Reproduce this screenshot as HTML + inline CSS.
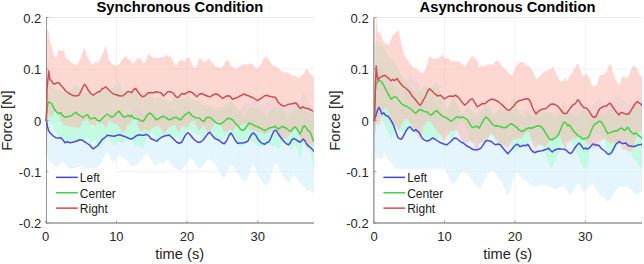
<!DOCTYPE html>
<html><head><meta charset="utf-8"><title>Force plots</title>
<style>
html,body{margin:0;padding:0;background:#fff;}
body{width:644px;height:264px;overflow:hidden;font-family:"Liberation Sans",sans-serif;}
svg{display:block;}
text{font-family:"Liberation Sans",sans-serif;fill:#262626;}
.tk{font-size:13px;}
.ti{font-size:14.72px;font-weight:bold;fill:#000;}
.al{font-size:14.7px;}
.lg{font-size:12px;fill:#1c1c1c;}
</style></head><body>
<svg width="644" height="264" viewBox="0 0 644 264">
<rect width="644" height="264" fill="#fff"/>
<clipPath id="c46"><rect x="46.0" y="17.5" width="268.0" height="205.5"/></clipPath>
<clipPath id="c46l"><rect x="45.0" y="17.5" width="269.0" height="205.5"/></clipPath>
<line x1="116.38" y1="17.5" x2="116.38" y2="223.0" stroke="#eeeeee" stroke-width="0.7"/>
<line x1="187.06" y1="17.5" x2="187.06" y2="223.0" stroke="#eeeeee" stroke-width="0.7"/>
<line x1="257.74" y1="17.5" x2="257.74" y2="223.0" stroke="#eeeeee" stroke-width="0.7"/>
<line x1="46.0" y1="69.0" x2="314.0" y2="69.0" stroke="#ececec" stroke-width="0.8"/>
<line x1="46.0" y1="120.5" x2="314.0" y2="120.5" stroke="#ececec" stroke-width="0.8"/>
<line x1="46.0" y1="171.7" x2="314.0" y2="171.7" stroke="#ececec" stroke-width="0.8"/>
<g clip-path="url(#c46)">
<path d="M46.0,120.5 L46.5,106.8 L47.0,98.0 L47.5,98.5 L48.0,97.6 L48.5,99.8 L49.0,102.0 L49.5,103.3 L50.0,104.5 L50.5,105.2 L51.0,105.7 L51.5,106.1 L52.0,106.5 L52.5,107.0 L53.0,107.5 L53.5,107.8 L54.0,107.9 L54.5,108.1 L55.0,108.4 L55.5,108.9 L56.0,109.0 L56.5,109.0 L57.0,109.0 L57.5,109.2 L58.0,110.0 L58.5,110.6 L59.0,111.2 L59.5,111.7 L60.0,112.2 L60.5,112.5 L61.0,113.7 L61.5,115.2 L62.0,116.7 L62.5,117.8 L63.0,118.0 L63.5,118.6 L64.0,119.3 L64.5,120.3 L65.0,120.7 L65.5,119.9 L66.0,119.1 L66.5,118.2 L67.0,117.4 L67.5,116.8 L68.0,116.6 L68.5,116.4 L69.0,116.3 L69.5,116.6 L70.0,116.8 L70.5,116.7 L71.0,116.5 L71.5,116.4 L72.0,116.3 L72.5,116.1 L73.0,116.1 L73.5,116.0 L74.0,115.9 L74.5,115.8 L75.0,115.7 L75.5,115.3 L76.0,115.0 L76.5,114.7 L77.0,114.3 L77.5,114.0 L78.0,113.7 L78.5,113.4 L79.0,113.2 L79.5,112.9 L80.0,112.9 L80.5,113.3 L81.0,113.6 L81.5,114.0 L82.0,113.9 L82.5,113.9 L83.0,114.2 L83.5,114.6 L84.0,114.9 L84.5,115.4 L85.0,116.0 L85.5,116.5 L86.0,117.1 L86.5,117.6 L87.0,118.1 L87.5,118.7 L88.0,119.4 L88.5,120.1 L89.0,120.7 L89.5,121.4 L90.0,122.3 L90.5,123.6 L91.0,124.9 L91.5,126.2 L92.0,127.2 L92.5,128.2 L93.0,129.2 L93.5,129.0 L94.0,128.2 L94.5,127.5 L95.0,126.9 L95.5,126.3 L96.0,125.8 L96.5,125.2 L97.0,124.7 L97.5,124.1 L98.0,123.2 L98.5,122.4 L99.0,121.6 L99.5,120.7 L100.0,120.0 L100.5,119.5 L101.0,119.0 L101.5,118.5 L102.0,118.0 L102.5,117.8 L103.0,118.1 L103.5,118.4 L104.0,118.8 L104.5,119.1 L105.0,119.3 L105.5,119.3 L106.0,119.2 L106.5,119.2 L107.0,119.2 L107.5,117.9 L108.0,117.4 L108.5,117.0 L109.0,116.5 L109.5,115.4 L110.0,114.3 L110.5,113.2 L111.0,112.5 L111.5,111.9 L112.0,111.4 L112.5,111.1 L113.0,111.3 L113.5,111.5 L114.0,111.7 L114.5,111.3 L115.0,111.3 L115.5,112.0 L116.0,112.6 L116.5,113.2 L117.0,113.9 L117.5,114.5 L118.0,114.9 L118.5,115.3 L119.0,115.7 L119.5,114.6 L120.0,113.8 L120.5,113.3 L121.0,113.3 L121.5,113.6 L122.0,113.8 L122.5,114.0 L123.0,114.2 L123.5,114.3 L124.0,114.3 L124.5,114.3 L125.0,114.3 L125.5,114.3 L126.0,114.2 L126.5,114.1 L127.0,113.9 L127.5,113.7 L128.0,113.6 L128.5,113.4 L129.0,113.2 L129.5,112.8 L130.0,112.3 L130.5,111.8 L131.0,111.7 L131.5,111.7 L132.0,111.0 L132.5,110.3 L133.0,109.6 L133.5,109.3 L134.0,109.1 L134.5,108.6 L135.0,108.1 L135.5,107.7 L136.0,107.2 L136.5,106.7 L137.0,106.7 L137.5,106.6 L138.0,106.5 L138.5,106.6 L139.0,106.7 L139.5,107.4 L140.0,108.1 L140.5,108.8 L141.0,109.6 L141.5,110.4 L142.0,111.1 L142.5,111.8 L143.0,112.4 L143.5,113.1 L144.0,113.8 L144.5,114.1 L145.0,114.4 L145.5,114.8 L146.0,115.1 L146.5,115.4 L147.0,116.7 L147.5,116.6 L148.0,116.5 L148.5,116.4 L149.0,116.2 L149.5,116.6 L150.0,117.0 L150.5,117.6 L151.0,118.5 L151.5,117.6 L152.0,116.7 L152.5,115.8 L153.0,115.3 L153.5,115.2 L154.0,115.2 L154.5,115.2 L155.0,115.2 L155.5,115.7 L156.0,116.6 L156.5,117.4 L157.0,117.7 L157.5,117.1 L158.0,116.4 L158.5,115.7 L159.0,115.1 L159.5,114.5 L160.0,114.2 L160.5,113.3 L161.0,112.1 L161.5,110.9 L162.0,109.8 L162.5,108.9 L163.0,108.8 L163.5,109.2 L164.0,109.5 L164.5,110.0 L165.0,110.6 L165.5,110.8 L166.0,110.8 L166.5,110.7 L167.0,110.7 L167.5,110.7 L168.0,110.2 L168.5,109.5 L169.0,108.8 L169.5,108.5 L170.0,108.8 L170.5,109.0 L171.0,109.0 L171.5,109.0 L172.0,109.1 L172.5,109.3 L173.0,109.7 L173.5,110.4 L174.0,111.0 L174.5,111.6 L175.0,112.2 L175.5,112.9 L176.0,113.5 L176.5,114.2 L177.0,114.8 L177.5,115.0 L178.0,115.3 L178.5,115.5 L179.0,115.7 L179.5,115.7 L180.0,115.4 L180.5,115.1 L181.0,114.8 L181.5,114.5 L182.0,113.9 L182.5,112.6 L183.0,111.2 L183.5,109.9 L184.0,108.6 L184.5,107.4 L185.0,106.6 L185.5,105.7 L186.0,104.9 L186.5,104.4 L187.0,104.5 L187.5,104.6 L188.0,104.6 L188.5,106.3 L189.0,108.0 L189.5,109.4 L190.0,110.7 L190.5,112.3 L191.0,114.1 L191.5,114.8 L192.0,115.5 L192.5,116.2 L193.0,116.7 L193.5,116.9 L194.0,117.1 L194.5,117.4 L195.0,117.6 L195.5,117.6 L196.0,117.4 L196.5,117.2 L197.0,117.1 L197.5,116.9 L198.0,116.6 L198.5,116.1 L199.0,115.7 L199.5,115.3 L200.0,115.4 L200.5,115.4 L201.0,115.1 L201.5,114.8 L202.0,114.6 L202.5,114.6 L203.0,114.2 L203.5,113.5 L204.0,112.8 L204.5,112.2 L205.0,111.5 L205.5,110.8 L206.0,110.2 L206.5,109.5 L207.0,108.8 L207.5,107.9 L208.0,107.4 L208.5,107.1 L209.0,106.8 L209.5,106.1 L210.0,106.1 L210.5,106.8 L211.0,107.4 L211.5,108.1 L212.0,108.8 L212.5,109.6 L213.0,110.4 L213.5,111.3 L214.0,112.1 L214.5,112.6 L215.0,112.5 L215.5,112.4 L216.0,112.2 L216.5,112.1 L217.0,111.8 L217.5,111.3 L218.0,110.8 L218.5,110.2 L219.0,109.7 L219.5,109.3 L220.0,109.4 L220.5,109.4 L221.0,109.4 L221.5,109.5 L222.0,109.5 L222.5,109.4 L223.0,109.2 L223.5,109.1 L224.0,109.0 L224.5,109.5 L225.0,108.8 L225.5,108.1 L226.0,107.4 L226.5,107.6 L227.0,107.4 L227.5,106.6 L228.0,105.6 L228.5,104.6 L229.0,103.5 L229.5,103.0 L230.0,102.0 L230.5,101.0 L231.0,101.8 L231.5,102.6 L232.0,103.3 L232.5,104.1 L233.0,105.3 L233.5,106.8 L234.0,108.2 L234.5,109.5 L235.0,110.8 L235.5,111.6 L236.0,112.1 L236.5,112.5 L237.0,113.0 L237.5,113.5 L238.0,113.1 L238.5,112.3 L239.0,111.6 L239.5,110.8 L240.0,110.0 L240.5,109.3 L241.0,108.5 L241.5,107.7 L242.0,107.0 L242.5,106.2 L243.0,105.4 L243.5,104.7 L244.0,104.4 L244.5,104.0 L245.0,103.4 L245.5,102.8 L246.0,102.8 L246.5,103.0 L247.0,103.2 L247.5,103.4 L248.0,103.4 L248.5,103.2 L249.0,103.0 L249.5,103.3 L250.0,104.5 L250.5,103.6 L251.0,102.6 L251.5,101.7 L252.0,101.6 L252.5,101.8 L253.0,100.7 L253.5,99.6 L254.0,99.5 L254.5,99.9 L255.0,100.3 L255.5,100.3 L256.0,100.6 L256.5,101.6 L257.0,102.5 L257.5,103.4 L258.0,104.2 L258.5,104.3 L259.0,104.3 L259.5,104.4 L260.0,104.5 L260.5,104.5 L261.0,104.5 L261.5,104.5 L262.0,104.5 L262.5,104.5 L263.0,104.5 L263.5,104.4 L264.0,104.4 L264.5,104.3 L265.0,103.4 L265.5,102.5 L266.0,101.5 L266.5,100.5 L267.0,99.9 L267.5,99.3 L268.0,99.9 L268.5,100.5 L269.0,100.4 L269.5,100.0 L270.0,100.1 L270.5,100.1 L271.0,99.5 L271.5,98.9 L272.0,98.1 L272.5,97.5 L273.0,96.8 L273.5,96.2 L274.0,96.0 L274.5,96.0 L275.0,95.9 L275.5,97.3 L276.0,98.1 L276.5,97.7 L277.0,98.2 L277.5,99.2 L278.0,100.1 L278.5,100.8 L279.0,101.1 L279.5,101.5 L280.0,101.9 L280.5,102.4 L281.0,102.9 L281.5,103.4 L282.0,103.9 L282.5,104.3 L283.0,104.7 L283.5,105.1 L284.0,105.5 L284.5,105.9 L285.0,106.1 L285.5,106.4 L286.0,106.7 L286.5,107.1 L287.0,107.1 L287.5,106.9 L288.0,107.0 L288.5,107.2 L289.0,106.3 L289.5,104.9 L290.0,104.5 L290.5,104.3 L291.0,103.8 L291.5,103.2 L292.0,102.4 L292.5,102.5 L293.0,102.7 L293.5,102.8 L294.0,102.8 L294.5,102.8 L295.0,102.7 L295.5,102.7 L296.0,102.6 L296.5,102.6 L297.0,102.5 L297.5,102.5 L298.0,102.4 L298.5,102.4 L299.0,102.4 L299.5,102.4 L300.0,102.4 L300.5,100.8 L301.0,99.2 L301.5,97.7 L302.0,96.2 L302.5,94.7 L303.0,93.2 L303.5,92.3 L304.0,92.9 L304.5,93.4 L305.0,93.9 L305.5,95.1 L306.0,96.2 L306.5,97.5 L307.0,98.3 L307.5,98.9 L308.0,99.5 L308.5,101.2 L309.0,102.5 L309.5,103.8 L310.0,105.1 L310.5,104.8 L311.0,104.8 L311.5,104.8 L312.0,105.3 L312.5,106.2 L313.0,107.1 L313.5,108.0 L314.0,108.5 L314.0,193.8 L313.5,193.6 L313.0,193.3 L312.5,193.0 L312.0,192.7 L311.5,192.2 L311.0,191.2 L310.5,190.2 L310.0,189.2 L309.5,189.8 L309.0,190.4 L308.5,191.0 L308.0,191.7 L307.5,191.1 L307.0,190.5 L306.5,189.9 L306.0,189.4 L305.5,188.7 L305.0,188.1 L304.5,187.4 L304.0,186.7 L303.5,186.1 L303.0,185.5 L302.5,185.0 L302.0,184.5 L301.5,184.0 L301.0,183.5 L300.5,182.9 L300.0,182.2 L299.5,181.6 L299.0,180.9 L298.5,180.2 L298.0,179.6 L297.5,178.9 L297.0,178.2 L296.5,177.6 L296.0,176.9 L295.5,176.3 L295.0,175.7 L294.5,175.1 L294.0,174.6 L293.5,174.4 L293.0,175.3 L292.5,176.1 L292.0,176.9 L291.5,177.9 L291.0,179.2 L290.5,180.4 L290.0,181.7 L289.5,182.4 L289.0,182.2 L288.5,182.1 L288.0,181.9 L287.5,181.7 L287.0,181.2 L286.5,180.7 L286.0,180.2 L285.5,179.7 L285.0,179.2 L284.5,178.3 L284.0,177.5 L283.5,176.7 L283.0,175.8 L282.5,175.0 L282.0,174.2 L281.5,173.3 L281.0,172.5 L280.5,171.7 L280.0,170.8 L279.5,169.8 L279.0,168.8 L278.5,167.7 L278.0,166.7 L277.5,165.8 L277.0,165.0 L276.5,164.1 L276.0,163.3 L275.5,163.6 L275.0,164.4 L274.5,165.3 L274.0,166.1 L273.5,167.2 L273.0,168.9 L272.5,170.6 L272.0,172.2 L271.5,174.0 L271.0,175.8 L270.5,177.7 L270.0,179.6 L269.5,181.2 L269.0,182.2 L268.5,183.3 L268.0,184.3 L267.5,185.3 L267.0,185.2 L266.5,185.1 L266.0,184.9 L265.5,184.8 L265.0,184.7 L264.5,184.2 L264.0,183.8 L263.5,183.4 L263.0,182.9 L262.5,182.5 L262.0,181.8 L261.5,181.2 L261.0,180.5 L260.5,179.8 L260.0,179.2 L259.5,178.0 L259.0,176.8 L258.5,175.7 L258.0,174.5 L257.5,173.3 L257.0,172.3 L256.5,171.3 L256.0,170.3 L255.5,169.3 L255.0,168.3 L254.5,167.7 L254.0,167.1 L253.5,166.5 L253.0,165.9 L252.5,165.3 L252.0,166.1 L251.5,166.9 L251.0,167.6 L250.5,168.4 L250.0,169.2 L249.5,172.3 L249.0,174.5 L248.5,176.2 L248.0,178.0 L247.5,179.4 L247.0,180.0 L246.5,180.6 L246.0,181.2 L245.5,181.6 L245.0,181.4 L244.5,181.2 L244.0,181.0 L243.5,180.8 L243.0,180.2 L242.5,179.5 L242.0,178.8 L241.5,178.2 L241.0,177.5 L240.5,176.8 L240.0,176.2 L239.5,175.5 L239.0,174.8 L238.5,174.2 L238.0,173.5 L237.5,172.8 L237.0,172.2 L236.5,171.5 L236.0,170.8 L235.5,170.2 L235.0,169.5 L234.5,168.8 L234.0,168.2 L233.5,167.5 L233.0,167.0 L232.5,166.5 L232.0,166.0 L231.5,165.5 L231.0,165.0 L230.5,165.5 L230.0,166.0 L229.5,166.5 L229.0,167.5 L228.5,168.8 L228.0,170.0 L227.5,171.3 L227.0,172.8 L226.5,174.3 L226.0,175.8 L225.5,176.5 L225.0,177.1 L224.5,177.7 L224.0,178.3 L223.5,177.8 L223.0,177.2 L222.5,176.6 L222.0,176.0 L221.5,175.3 L221.0,174.4 L220.5,173.6 L220.0,172.8 L219.5,171.9 L219.0,171.0 L218.5,170.0 L218.0,169.0 L217.5,168.0 L217.0,167.0 L216.5,166.2 L216.0,165.6 L215.5,164.9 L215.0,164.2 L214.5,163.6 L214.0,163.0 L213.5,162.5 L213.0,162.0 L212.5,161.5 L212.0,161.0 L211.5,160.5 L211.0,160.0 L210.5,159.5 L210.0,159.0 L209.5,158.5 L209.0,158.7 L208.5,159.2 L208.0,159.7 L207.5,160.2 L207.0,160.7 L206.5,161.3 L206.0,161.9 L205.5,162.6 L205.0,163.3 L204.5,163.9 L204.0,164.6 L203.5,165.3 L203.0,165.9 L202.5,166.6 L202.0,167.3 L201.5,167.8 L201.0,168.1 L200.5,168.5 L200.0,168.9 L199.5,169.0 L199.0,168.6 L198.5,168.2 L198.0,167.8 L197.5,167.2 L197.0,166.4 L196.5,165.6 L196.0,164.7 L195.5,163.9 L195.0,163.1 L194.5,162.3 L194.0,161.5 L193.5,160.8 L193.0,160.0 L192.5,159.4 L192.0,158.8 L191.5,158.1 L191.0,157.5 L190.5,157.9 L190.0,158.3 L189.5,158.8 L189.0,159.2 L188.5,159.9 L188.0,160.7 L187.5,161.5 L187.0,162.2 L186.5,163.1 L186.0,163.9 L185.5,164.7 L185.0,165.6 L184.5,166.4 L184.0,167.1 L183.5,167.8 L183.0,168.4 L182.5,169.1 L182.0,169.8 L181.5,170.1 L181.0,170.3 L180.5,170.4 L180.0,170.6 L179.5,170.8 L179.0,170.7 L178.5,170.4 L178.0,170.2 L177.5,169.9 L177.0,169.7 L176.5,169.4 L176.0,169.2 L175.5,168.8 L175.0,168.4 L174.5,168.0 L174.0,167.7 L173.5,167.3 L173.0,166.9 L172.5,166.4 L172.0,165.6 L171.5,164.7 L171.0,163.9 L170.5,163.1 L170.0,162.3 L169.5,161.8 L169.0,161.3 L168.5,160.8 L168.0,160.3 L167.5,160.1 L167.0,160.2 L166.5,160.4 L166.0,160.6 L165.5,160.7 L165.0,161.1 L164.5,161.9 L164.0,162.8 L163.5,163.6 L163.0,164.4 L162.5,164.8 L162.0,164.3 L161.5,163.8 L161.0,163.3 L160.5,162.8 L160.0,162.6 L159.5,162.9 L159.0,163.3 L158.5,163.6 L158.0,163.9 L157.5,164.3 L157.0,164.6 L156.5,164.9 L156.0,165.3 L155.5,165.6 L155.0,165.7 L154.5,165.2 L154.0,164.7 L153.5,164.2 L153.0,163.7 L152.5,162.9 L152.0,161.7 L151.5,160.4 L151.0,159.2 L150.5,158.7 L150.0,157.8 L149.5,156.8 L149.0,155.8 L148.5,154.9 L148.0,154.2 L147.5,153.4 L147.0,152.7 L146.5,153.3 L146.0,153.9 L145.5,154.6 L145.0,155.2 L144.5,155.9 L144.0,156.6 L143.5,157.2 L143.0,157.9 L142.5,158.6 L142.0,159.2 L141.5,159.9 L141.0,160.6 L140.5,161.2 L140.0,161.7 L139.5,162.2 L139.0,162.7 L138.5,163.2 L138.0,163.6 L137.5,163.9 L137.0,164.3 L136.5,164.6 L136.0,164.9 L135.5,165.3 L135.0,165.6 L134.5,165.9 L134.0,166.3 L133.5,166.6 L133.0,166.8 L132.5,166.6 L132.0,166.4 L131.5,166.3 L131.0,166.1 L130.5,165.8 L130.0,165.1 L129.5,164.4 L129.0,163.8 L128.5,163.1 L128.0,162.4 L127.5,161.8 L127.0,161.1 L126.5,160.4 L126.0,159.8 L125.5,159.2 L125.0,158.9 L124.5,158.6 L124.0,158.2 L123.5,157.9 L123.0,157.6 L122.5,157.4 L122.0,157.3 L121.5,157.1 L121.0,156.9 L120.5,156.6 L120.0,155.7 L119.5,154.8 L119.0,154.0 L118.5,154.6 L118.0,155.2 L117.5,155.8 L117.0,156.7 L116.5,157.7 L116.0,158.7 L115.5,159.7 L115.0,160.7 L114.5,161.0 L114.0,161.0 L113.5,161.0 L113.0,161.0 L112.5,161.0 L112.0,160.5 L111.5,159.8 L111.0,159.0 L110.5,158.1 L110.0,156.8 L109.5,155.6 L109.0,154.3 L108.5,153.7 L108.0,153.1 L107.5,152.5 L107.0,151.8 L106.5,152.8 L106.0,153.8 L105.5,154.7 L105.0,155.7 L104.5,156.7 L104.0,157.7 L103.5,158.7 L103.0,159.7 L102.5,160.7 L102.0,161.6 L101.5,162.4 L101.0,163.2 L100.5,164.1 L100.0,164.9 L99.5,165.5 L99.0,166.0 L98.5,166.5 L98.0,167.0 L97.5,167.5 L97.0,167.8 L96.5,167.9 L96.0,168.0 L95.5,168.1 L95.0,168.2 L94.5,168.4 L94.0,168.5 L93.5,168.5 L93.0,168.5 L92.5,168.5 L92.0,168.5 L91.5,168.5 L91.0,168.5 L90.5,168.5 L90.0,168.5 L89.5,168.5 L89.0,168.5 L88.5,168.5 L88.0,168.5 L87.5,168.5 L87.0,168.4 L86.5,168.3 L86.0,168.2 L85.5,168.0 L85.0,167.9 L84.5,167.8 L84.0,167.7 L83.5,167.3 L83.0,167.0 L82.5,166.7 L82.0,166.3 L81.5,166.0 L81.0,166.2 L80.5,166.3 L80.0,166.5 L79.5,166.7 L79.0,166.8 L78.5,167.0 L78.0,167.1 L77.5,167.2 L77.0,167.3 L76.5,167.5 L76.0,167.6 L75.5,167.7 L75.0,167.8 L74.5,168.0 L74.0,168.1 L73.5,168.2 L73.0,168.3 L72.5,168.5 L72.0,168.5 L71.5,168.5 L71.0,168.5 L70.5,168.5 L70.0,168.5 L69.5,168.5 L69.0,168.5 L68.5,168.0 L68.0,167.5 L67.5,167.0 L67.0,166.5 L66.5,166.0 L66.0,165.5 L65.5,165.0 L65.0,164.5 L64.5,164.0 L64.0,163.5 L63.5,162.8 L63.0,162.0 L62.5,161.2 L62.0,161.3 L61.5,161.8 L61.0,162.3 L60.5,162.8 L60.0,163.3 L59.5,163.9 L59.0,164.6 L58.5,165.3 L58.0,165.9 L57.5,166.6 L57.0,166.7 L56.5,166.6 L56.0,166.4 L55.5,166.2 L55.0,166.1 L54.5,165.7 L54.0,165.2 L53.5,164.7 L53.0,164.2 L52.5,163.7 L52.0,163.1 L51.5,162.6 L51.0,162.0 L50.5,161.4 L50.0,160.9 L49.5,160.7 L49.0,160.8 L48.5,160.9 L48.0,159.4 L47.5,154.7 L47.0,150.0 L46.5,135.2 L46.0,120.5Z" fill="rgb(201,235,251)" fill-opacity="0.5" stroke="none"/>
<path d="M46.0,120.5 L46.5,113.7 L47.0,106.8 L47.5,100.0 L48.0,93.1 L48.5,86.1 L49.0,79.2 L49.5,80.2 L50.0,81.2 L50.5,82.2 L51.0,83.2 L51.5,84.2 L52.0,84.8 L52.5,85.5 L53.0,86.2 L53.5,86.8 L54.0,87.5 L54.5,88.2 L55.0,88.8 L55.5,89.5 L56.0,90.2 L56.5,90.8 L57.0,90.5 L57.5,90.2 L58.0,89.8 L58.5,89.5 L59.0,89.2 L59.5,89.5 L60.0,89.8 L60.5,90.2 L61.0,90.5 L61.5,90.8 L62.0,91.2 L62.5,91.5 L63.0,91.8 L63.5,92.2 L64.0,92.5 L64.5,92.6 L65.0,92.8 L65.5,92.9 L66.0,93.0 L66.5,93.1 L67.0,93.2 L67.5,93.2 L68.0,92.8 L68.5,92.5 L69.0,92.1 L69.5,91.7 L70.0,91.3 L70.5,91.0 L71.0,90.3 L71.5,89.4 L72.0,88.6 L72.5,87.8 L73.0,86.9 L73.5,86.3 L74.0,85.7 L74.5,85.1 L75.0,84.5 L75.5,83.9 L76.0,84.2 L76.5,84.9 L77.0,85.7 L77.5,86.5 L78.0,87.2 L78.5,88.2 L79.0,89.2 L79.5,90.2 L80.0,91.1 L80.5,91.8 L81.0,92.6 L81.5,93.3 L82.0,93.2 L82.5,93.1 L83.0,93.0 L83.5,92.9 L84.0,92.8 L84.5,92.7 L85.0,92.6 L85.5,92.5 L86.0,92.6 L86.5,92.8 L87.0,92.9 L87.5,93.1 L88.0,93.3 L88.5,93.4 L89.0,93.6 L89.5,93.8 L90.0,93.9 L90.5,94.1 L91.0,94.3 L91.5,94.6 L92.0,94.8 L92.5,95.1 L93.0,95.3 L93.5,95.6 L94.0,95.8 L94.5,95.7 L95.0,95.6 L95.5,95.5 L96.0,95.3 L96.5,95.2 L97.0,95.1 L97.5,94.9 L98.0,94.5 L98.5,94.1 L99.0,93.8 L99.5,93.4 L100.0,93.0 L100.5,92.6 L101.0,92.3 L101.5,92.1 L102.0,91.8 L102.5,91.6 L103.0,91.3 L103.5,91.1 L104.0,90.8 L104.5,91.0 L105.0,91.1 L105.5,91.2 L106.0,91.3 L106.5,91.5 L107.0,91.6 L107.5,91.6 L108.0,91.5 L108.5,91.4 L109.0,91.2 L109.5,91.1 L110.0,91.0 L110.5,90.9 L111.0,90.5 L111.5,90.0 L112.0,89.5 L112.5,89.0 L113.0,88.5 L113.5,87.9 L114.0,87.2 L114.5,86.6 L115.0,85.9 L115.5,85.2 L116.0,84.3 L116.5,83.3 L117.0,82.3 L117.5,81.3 L118.0,80.3 L118.5,80.7 L119.0,81.7 L119.5,82.7 L120.0,83.7 L120.5,84.7 L121.0,85.7 L121.5,86.7 L122.0,87.7 L122.5,88.7 L123.0,89.7 L123.5,90.4 L124.0,91.1 L124.5,91.8 L125.0,92.4 L125.5,93.1 L126.0,93.3 L126.5,93.3 L127.0,93.3 L127.5,93.3 L128.0,93.3 L128.5,93.3 L129.0,93.3 L129.5,93.2 L130.0,93.1 L130.5,93.0 L131.0,92.8 L131.5,92.7 L132.0,92.6 L132.5,92.5 L133.0,92.3 L133.5,92.2 L134.0,92.1 L134.5,92.0 L135.0,91.8 L135.5,91.7 L136.0,91.8 L136.5,91.9 L137.0,92.1 L137.5,92.3 L138.0,92.4 L138.5,92.7 L139.0,93.1 L139.5,93.4 L140.0,93.7 L140.5,94.1 L141.0,94.2 L141.5,94.4 L142.0,94.5 L142.5,94.6 L143.0,94.8 L143.5,94.9 L144.0,95.0 L144.5,94.8 L145.0,94.6 L145.5,94.4 L146.0,94.2 L146.5,94.0 L147.0,93.8 L147.5,93.6 L148.0,93.5 L148.5,93.4 L149.0,93.2 L149.5,93.1 L150.0,93.0 L150.5,94.1 L151.0,95.2 L151.5,95.7 L152.0,96.2 L152.5,96.7 L153.0,97.2 L153.5,97.7 L154.0,98.2 L154.5,98.4 L155.0,98.2 L155.5,97.9 L156.0,97.7 L156.5,97.4 L157.0,97.2 L157.5,96.9 L158.0,96.9 L158.5,97.0 L159.0,97.2 L159.5,97.3 L160.0,97.4 L160.5,97.5 L161.0,97.7 L161.5,97.9 L162.0,98.2 L162.5,98.4 L163.0,98.7 L163.5,98.9 L164.0,99.2 L164.5,99.5 L165.0,99.8 L165.5,100.2 L166.0,100.6 L166.5,101.0 L167.0,101.3 L167.5,101.7 L168.0,101.8 L168.5,101.6 L169.0,101.5 L169.5,101.4 L170.0,101.2 L170.5,101.1 L171.0,101.0 L171.5,100.3 L172.0,99.7 L172.5,99.0 L173.0,98.3 L173.5,97.7 L174.0,97.8 L174.5,98.0 L175.0,98.2 L175.5,98.3 L176.0,98.5 L176.5,98.6 L177.0,98.8 L177.5,98.9 L178.0,99.0 L178.5,99.1 L179.0,99.2 L179.5,99.3 L180.0,99.2 L180.5,99.0 L181.0,98.9 L181.5,98.8 L182.0,98.7 L182.5,98.5 L183.0,98.3 L183.5,98.1 L184.0,97.8 L184.5,97.6 L185.0,97.3 L185.5,97.1 L186.0,96.8 L186.5,96.5 L187.0,96.2 L187.5,95.8 L188.0,95.5 L188.5,95.2 L189.0,95.7 L189.5,96.2 L190.0,96.7 L190.5,97.2 L191.0,97.7 L191.5,98.2 L192.0,98.7 L192.5,99.2 L193.0,99.7 L193.5,100.2 L194.0,100.7 L194.5,101.0 L195.0,100.8 L195.5,100.7 L196.0,100.6 L196.5,100.5 L197.0,100.3 L197.5,100.2 L198.0,100.5 L198.5,101.0 L199.0,101.5 L199.5,102.0 L200.0,102.5 L200.5,103.0 L201.0,103.5 L201.5,103.8 L202.0,104.0 L202.5,104.2 L203.0,104.5 L203.5,104.8 L204.0,105.0 L204.5,105.1 L205.0,105.0 L205.5,104.9 L206.0,104.8 L206.5,104.6 L207.0,104.5 L207.5,104.4 L208.0,104.4 L208.5,104.5 L209.0,104.7 L209.5,104.8 L210.0,104.9 L210.5,105.0 L211.0,105.2 L211.5,105.5 L212.0,105.9 L212.5,106.3 L213.0,106.7 L213.5,107.0 L214.0,107.4 L214.5,107.6 L215.0,107.5 L215.5,107.4 L216.0,107.2 L216.5,107.1 L217.0,107.0 L217.5,106.9 L218.0,106.8 L218.5,106.8 L219.0,106.8 L219.5,106.8 L220.0,106.8 L220.5,106.8 L221.0,106.8 L221.5,106.6 L222.0,106.3 L222.5,106.1 L223.0,105.8 L223.5,105.6 L224.0,105.3 L224.5,105.1 L225.0,104.8 L225.5,104.6 L226.0,104.3 L226.5,104.1 L227.0,103.8 L227.5,103.6 L228.0,103.3 L228.5,102.9 L229.0,102.5 L229.5,102.1 L230.0,101.8 L230.5,101.4 L231.0,101.0 L231.5,101.5 L232.0,102.0 L232.5,102.5 L233.0,103.0 L233.5,103.5 L234.0,104.1 L234.5,104.7 L235.0,105.2 L235.5,105.8 L236.0,106.4 L236.5,106.8 L237.0,107.1 L237.5,107.5 L238.0,107.9 L238.5,108.2 L239.0,108.9 L239.5,109.6 L240.0,110.2 L240.5,111.0 L241.0,112.0 L241.5,113.0 L242.0,114.0 L242.5,114.8 L243.0,115.5 L243.5,116.2 L244.0,116.9 L244.5,117.6 L245.0,116.6 L245.5,115.6 L246.0,114.5 L246.5,113.5 L247.0,112.4 L247.5,111.2 L248.0,110.0 L248.5,108.9 L249.0,108.4 L249.5,107.9 L250.0,107.4 L250.5,107.0 L251.0,107.2 L251.5,107.3 L252.0,107.4 L252.5,107.5 L253.0,107.7 L253.5,107.8 L254.0,107.8 L254.5,108.0 L255.0,108.0 L255.5,108.2 L256.0,108.2 L256.5,108.2 L257.0,108.2 L257.5,108.2 L258.0,108.2 L258.5,108.2 L259.0,108.2 L259.5,108.5 L260.0,108.8 L260.5,109.2 L261.0,109.5 L261.5,110.3 L262.0,111.2 L262.5,112.0 L263.0,112.8 L263.5,113.7 L264.0,114.5 L264.5,115.3 L265.0,116.1 L265.5,116.8 L266.0,117.4 L266.5,118.1 L267.0,117.6 L267.5,116.8 L268.0,116.0 L268.5,115.1 L269.0,114.0 L269.5,112.8 L270.0,111.6 L270.5,110.6 L271.0,109.9 L271.5,109.2 L272.0,108.6 L272.5,108.2 L273.0,108.1 L273.5,107.9 L274.0,107.8 L274.5,107.7 L275.0,107.6 L275.5,107.6 L276.0,107.6 L276.5,107.6 L277.0,107.6 L277.5,107.6 L278.0,107.6 L278.5,107.6 L279.0,107.9 L279.5,108.2 L280.0,108.5 L280.5,108.8 L281.0,109.1 L281.5,109.4 L282.0,109.9 L282.5,110.4 L283.0,110.9 L283.5,111.4 L284.0,111.9 L284.5,112.5 L285.0,113.2 L285.5,113.8 L286.0,114.5 L286.5,114.8 L287.0,115.2 L287.5,115.5 L288.0,115.6 L288.5,115.1 L289.0,114.6 L289.5,114.1 L290.0,113.5 L290.5,112.9 L291.0,112.2 L291.5,111.5 L292.0,111.0 L292.5,110.5 L293.0,110.0 L293.5,109.5 L294.0,109.4 L294.5,109.2 L295.0,109.1 L295.5,109.0 L296.0,108.9 L296.5,109.0 L297.0,109.1 L297.5,109.2 L298.0,109.4 L298.5,109.5 L299.0,109.4 L299.5,109.2 L300.0,109.1 L300.5,109.0 L301.0,108.9 L301.5,109.0 L302.0,109.1 L302.5,109.2 L303.0,109.4 L303.5,109.5 L304.0,109.8 L304.5,110.0 L305.0,110.2 L305.5,110.5 L306.0,110.8 L306.5,111.0 L307.0,111.2 L307.5,111.5 L308.0,111.8 L308.5,112.0 L309.0,112.2 L309.5,112.5 L310.0,112.8 L310.5,113.0 L311.0,113.2 L311.5,113.4 L312.0,113.5 L312.5,113.6 L313.0,113.7 L313.5,113.8 L314.0,114.0 L314.0,170.0 L313.5,168.7 L313.0,166.3 L312.5,163.4 L312.0,160.5 L311.5,157.8 L311.0,155.4 L310.5,153.2 L310.0,150.9 L309.5,150.5 L309.0,150.0 L308.5,149.6 L308.0,148.7 L307.5,147.6 L307.0,146.5 L306.5,145.4 L306.0,144.4 L305.5,143.4 L305.0,142.4 L304.5,141.3 L304.0,142.2 L303.5,143.0 L303.0,145.2 L302.5,148.1 L302.0,151.0 L301.5,153.6 L301.0,155.5 L300.5,157.2 L300.0,158.9 L299.5,157.0 L299.0,155.0 L298.5,153.1 L298.0,151.6 L297.5,150.2 L297.0,148.9 L296.5,147.7 L296.0,146.8 L295.5,145.7 L295.0,144.5 L294.5,145.2 L294.0,146.0 L293.5,146.7 L293.0,147.0 L292.5,147.8 L292.0,148.6 L291.5,149.4 L291.0,150.0 L290.5,149.5 L290.0,148.5 L289.5,147.5 L289.0,146.4 L288.5,145.1 L288.0,143.7 L287.5,142.9 L287.0,142.4 L286.5,142.0 L286.0,141.9 L285.5,142.1 L285.0,142.3 L284.5,142.5 L284.0,142.6 L283.5,142.7 L283.0,142.7 L282.5,142.8 L282.0,142.8 L281.5,144.1 L281.0,145.2 L280.5,146.3 L280.0,147.5 L279.5,148.4 L279.0,149.3 L278.5,150.2 L278.0,149.8 L277.5,149.0 L277.0,148.2 L276.5,147.4 L276.0,146.6 L275.5,145.8 L275.0,145.0 L274.5,145.4 L274.0,145.7 L273.5,145.9 L273.0,146.2 L272.5,146.5 L272.0,146.2 L271.5,145.7 L271.0,145.1 L270.5,144.6 L270.0,143.7 L269.5,143.1 L269.0,142.4 L268.5,141.8 L268.0,141.5 L267.5,141.2 L267.0,141.0 L266.5,141.2 L266.0,142.6 L265.5,143.9 L265.0,145.2 L264.5,145.5 L264.0,145.8 L263.5,146.1 L263.0,146.4 L262.5,146.7 L262.0,147.0 L261.5,147.3 L261.0,147.6 L260.5,147.4 L260.0,147.2 L259.5,147.0 L259.0,146.8 L258.5,146.3 L258.0,145.9 L257.5,145.4 L257.0,145.1 L256.5,144.8 L256.0,144.4 L255.5,144.2 L255.0,143.9 L254.5,143.4 L254.0,142.8 L253.5,142.2 L253.0,141.7 L252.5,141.1 L252.0,140.9 L251.5,140.7 L251.0,140.5 L250.5,140.3 L250.0,139.6 L249.5,138.6 L249.0,137.6 L248.5,138.7 L248.0,139.0 L247.5,139.4 L247.0,139.8 L246.5,140.0 L246.0,140.4 L245.5,140.7 L245.0,141.0 L244.5,141.3 L244.0,142.7 L243.5,143.8 L243.0,144.9 L242.5,146.0 L242.0,146.5 L241.5,146.7 L241.0,146.9 L240.5,147.2 L240.0,147.0 L239.5,146.3 L239.0,145.6 L238.5,145.0 L238.0,144.0 L237.5,143.2 L237.0,142.5 L236.5,141.9 L236.0,141.3 L235.5,140.9 L235.0,140.4 L234.5,139.7 L234.0,139.1 L233.5,138.5 L233.0,137.8 L232.5,137.3 L232.0,137.2 L231.5,137.1 L231.0,137.1 L230.5,136.2 L230.0,135.7 L229.5,135.1 L229.0,134.5 L228.5,134.0 L228.0,133.4 L227.5,133.7 L227.0,134.2 L226.5,134.6 L226.0,135.0 L225.5,135.8 L225.0,136.5 L224.5,137.2 L224.0,138.0 L223.5,138.8 L223.0,139.2 L222.5,139.6 L222.0,140.0 L221.5,140.4 L221.0,140.8 L220.5,140.8 L220.0,140.8 L219.5,140.8 L219.0,140.8 L218.5,140.8 L218.0,140.4 L217.5,139.9 L217.0,139.3 L216.5,138.7 L216.0,138.1 L215.5,137.1 L215.0,136.1 L214.5,135.1 L214.0,134.4 L213.5,134.0 L213.0,133.3 L212.5,132.7 L212.0,132.1 L211.5,131.5 L211.0,130.8 L210.5,130.6 L210.0,130.4 L209.5,130.2 L209.0,130.0 L208.5,129.8 L208.0,130.2 L207.5,130.6 L207.0,130.8 L206.5,131.0 L206.0,131.2 L205.5,133.0 L205.0,134.7 L204.5,136.4 L204.0,138.3 L203.5,138.0 L203.0,137.8 L202.5,137.5 L202.0,137.2 L201.5,136.6 L201.0,135.8 L200.5,135.3 L200.0,134.8 L199.5,134.3 L199.0,134.4 L198.5,134.8 L198.0,135.1 L197.5,135.3 L197.0,135.0 L196.5,134.7 L196.0,134.4 L195.5,134.1 L195.0,133.8 L194.5,133.4 L194.0,133.2 L193.5,133.1 L193.0,132.9 L192.5,132.7 L192.0,132.6 L191.5,131.9 L191.0,131.1 L190.5,130.3 L190.0,129.4 L189.5,128.6 L189.0,129.1 L188.5,130.1 L188.0,130.4 L187.5,130.6 L187.0,130.9 L186.5,131.2 L186.0,131.5 L185.5,131.8 L185.0,132.3 L184.5,133.1 L184.0,133.8 L183.5,134.6 L183.0,135.3 L182.5,136.3 L182.0,137.6 L181.5,138.8 L181.0,140.1 L180.5,140.8 L180.0,140.1 L179.5,139.5 L179.0,139.0 L178.5,138.5 L178.0,138.0 L177.5,137.5 L177.0,136.9 L176.5,136.4 L176.0,135.8 L175.5,136.2 L175.0,136.6 L174.5,136.9 L174.0,137.3 L173.5,137.7 L173.0,137.7 L172.5,137.7 L172.0,137.7 L171.5,137.7 L171.0,137.7 L170.5,137.7 L170.0,137.7 L169.5,137.7 L169.0,137.7 L168.5,137.7 L168.0,136.8 L167.5,136.0 L167.0,135.6 L166.5,135.2 L166.0,134.8 L165.5,134.6 L165.0,134.4 L164.5,134.3 L164.0,134.0 L163.5,133.8 L163.0,134.3 L162.5,134.9 L162.0,135.5 L161.5,136.1 L161.0,136.7 L160.5,137.5 L160.0,138.2 L159.5,139.0 L159.0,139.8 L158.5,140.6 L158.0,141.1 L157.5,141.4 L157.0,141.5 L156.5,141.6 L156.0,141.7 L155.5,140.1 L155.0,138.5 L154.5,136.9 L154.0,135.8 L153.5,135.0 L153.0,134.5 L152.5,134.0 L152.0,133.5 L151.5,133.0 L151.0,132.5 L150.5,132.7 L150.0,133.0 L149.5,133.4 L149.0,133.8 L148.5,134.3 L148.0,134.9 L147.5,136.0 L147.0,137.0 L146.5,138.0 L146.0,139.8 L145.5,141.6 L145.0,143.4 L144.5,144.7 L144.0,145.7 L143.5,147.0 L143.0,147.8 L142.5,147.7 L142.0,147.5 L141.5,147.4 L141.0,147.3 L140.5,147.1 L140.0,146.7 L139.5,146.4 L139.0,146.1 L138.5,145.7 L138.0,145.5 L137.5,145.5 L137.0,145.4 L136.5,145.4 L136.0,145.4 L135.5,145.2 L135.0,144.7 L134.5,144.3 L134.0,143.8 L133.5,143.3 L133.0,142.5 L132.5,140.9 L132.0,139.2 L131.5,137.6 L131.0,138.5 L130.5,139.4 L130.0,140.2 L129.5,139.8 L129.0,138.7 L128.5,137.7 L128.0,137.2 L127.5,137.9 L127.0,138.6 L126.5,139.2 L126.0,139.9 L125.5,140.6 L125.0,141.2 L124.5,141.9 L124.0,142.6 L123.5,143.2 L123.0,143.6 L122.5,143.2 L122.0,142.9 L121.5,142.6 L121.0,142.2 L120.5,141.8 L120.0,141.3 L119.5,140.8 L119.0,140.3 L118.5,142.1 L118.0,143.3 L117.5,143.1 L117.0,143.1 L116.5,143.2 L116.0,143.4 L115.5,143.6 L115.0,144.1 L114.5,144.4 L114.0,144.6 L113.5,144.8 L113.0,145.0 L112.5,145.4 L112.0,144.8 L111.5,143.8 L111.0,142.7 L110.5,141.8 L110.0,141.2 L109.5,140.3 L109.0,139.4 L108.5,138.5 L108.0,137.6 L107.5,136.6 L107.0,137.0 L106.5,137.9 L106.0,138.8 L105.5,139.7 L105.0,140.7 L104.5,141.7 L104.0,142.8 L103.5,143.6 L103.0,144.3 L102.5,145.1 L102.0,145.8 L101.5,146.6 L101.0,147.3 L100.5,148.0 L100.0,148.7 L99.5,148.4 L99.0,147.7 L98.5,147.0 L98.0,146.3 L97.5,145.6 L97.0,144.6 L96.5,143.5 L96.0,142.3 L95.5,141.2 L95.0,140.1 L94.5,139.8 L94.0,140.1 L93.5,140.6 L93.0,141.2 L92.5,141.8 L92.0,142.2 L91.5,142.4 L91.0,142.7 L90.5,142.9 L90.0,143.1 L89.5,142.0 L89.0,140.4 L88.5,138.8 L88.0,137.2 L87.5,136.3 L87.0,136.7 L86.5,137.1 L86.0,137.6 L85.5,138.1 L85.0,139.0 L84.5,139.9 L84.0,140.8 L83.5,141.7 L83.0,142.1 L82.5,141.3 L82.0,140.5 L81.5,139.8 L81.0,139.9 L80.5,139.9 L80.0,140.0 L79.5,140.3 L79.0,140.6 L78.5,140.9 L78.0,141.2 L77.5,141.1 L77.0,141.1 L76.5,141.1 L76.0,141.0 L75.5,141.0 L75.0,141.1 L74.5,141.2 L74.0,141.3 L73.5,141.6 L73.0,141.8 L72.5,141.8 L72.0,141.9 L71.5,141.9 L71.0,141.3 L70.5,140.9 L70.0,140.8 L69.5,140.7 L69.0,140.6 L68.5,140.5 L68.0,140.4 L67.5,140.4 L67.0,140.6 L66.5,141.0 L66.0,141.5 L65.5,141.6 L65.0,141.2 L64.5,140.8 L64.0,140.4 L63.5,140.2 L63.0,139.7 L62.5,138.7 L62.0,137.7 L61.5,136.7 L61.0,135.7 L60.5,135.3 L60.0,135.9 L59.5,136.6 L59.0,137.3 L58.5,137.3 L58.0,136.8 L57.5,135.5 L57.0,134.2 L56.5,132.8 L56.0,132.5 L55.5,131.9 L55.0,130.9 L54.5,129.9 L54.0,128.9 L53.5,127.9 L53.0,126.8 L52.5,125.5 L52.0,124.2 L51.5,122.8 L51.0,123.2 L50.5,123.5 L50.0,123.8 L49.5,124.2 L49.0,124.5 L48.5,119.1 L48.0,113.7 L47.5,110.0 L47.0,113.2 L46.5,123.8 L46.0,120.5Z" fill="rgb(171,255,208)" fill-opacity="0.6" stroke="none"/>
<path d="M46.0,120.5 L46.5,70.0 L47.0,44.7 L47.5,29.4 L48.0,29.1 L48.5,31.0 L49.0,36.0 L49.5,39.0 L50.0,41.5 L50.5,42.9 L51.0,44.3 L51.5,46.2 L52.0,48.1 L52.5,50.0 L53.0,52.0 L53.5,54.0 L54.0,56.0 L54.5,56.2 L55.0,56.3 L55.5,56.5 L56.0,56.7 L56.5,56.8 L57.0,55.1 L57.5,53.4 L58.0,51.6 L58.5,49.9 L59.0,49.6 L59.5,49.9 L60.0,50.2 L60.5,50.6 L61.0,50.7 L61.5,50.8 L62.0,50.8 L62.5,50.9 L63.0,50.9 L63.5,51.0 L64.0,51.0 L64.5,53.0 L65.0,55.0 L65.5,57.0 L66.0,57.9 L66.5,58.3 L67.0,58.7 L67.5,59.0 L68.0,59.4 L68.5,59.8 L69.0,60.2 L69.5,60.7 L70.0,61.2 L70.5,61.7 L71.0,62.2 L71.5,62.7 L72.0,63.2 L72.5,63.6 L73.0,63.7 L73.5,63.9 L74.0,64.1 L74.5,64.3 L75.0,64.4 L75.5,64.6 L76.0,64.5 L76.5,64.3 L77.0,64.0 L77.5,63.8 L78.0,63.6 L78.5,62.7 L79.0,61.4 L79.5,60.2 L80.0,59.0 L80.5,58.0 L81.0,57.0 L81.5,56.0 L82.0,54.6 L82.5,53.2 L83.0,51.8 L83.5,50.4 L84.0,49.1 L84.5,47.7 L85.0,49.5 L85.5,51.4 L86.0,53.3 L86.5,55.2 L87.0,56.2 L87.5,57.2 L88.0,58.2 L88.5,59.0 L89.0,59.8 L89.5,60.5 L90.0,61.3 L90.5,62.1 L91.0,62.9 L91.5,63.8 L92.0,64.6 L92.5,65.0 L93.0,64.5 L93.5,64.0 L94.0,63.5 L94.5,62.7 L95.0,62.0 L95.5,61.2 L96.0,61.5 L96.5,62.2 L97.0,63.0 L97.5,63.3 L98.0,62.5 L98.5,61.8 L99.0,61.0 L99.5,60.0 L100.0,59.0 L100.5,58.0 L101.0,57.0 L101.5,56.0 L102.0,55.0 L102.5,54.0 L103.0,53.0 L103.5,52.0 L104.0,51.0 L104.5,49.2 L105.0,47.5 L105.5,45.7 L106.0,46.5 L106.5,48.5 L107.0,50.5 L107.5,52.6 L108.0,55.1 L108.5,57.5 L109.0,60.0 L109.5,60.1 L110.0,60.5 L110.5,61.5 L111.0,62.5 L111.5,63.5 L112.0,63.8 L112.5,64.2 L113.0,64.5 L113.5,64.8 L114.0,65.2 L114.5,65.2 L115.0,65.2 L115.5,65.2 L116.0,65.2 L116.5,65.2 L117.0,65.2 L117.5,65.1 L118.0,64.7 L118.5,64.4 L119.0,64.1 L119.5,63.7 L120.0,63.2 L120.5,62.5 L121.0,61.8 L121.5,61.0 L122.0,60.0 L122.5,59.0 L123.0,58.0 L123.5,57.7 L124.0,57.7 L124.5,57.2 L125.0,56.8 L125.5,56.4 L126.0,56.0 L126.5,56.8 L127.0,57.5 L127.5,58.3 L128.0,59.1 L128.5,59.3 L129.0,59.3 L129.5,59.3 L130.0,59.7 L130.5,60.7 L131.0,61.7 L131.5,62.7 L132.0,62.8 L132.5,63.0 L133.0,63.2 L133.5,63.3 L134.0,63.5 L134.5,62.8 L135.0,62.0 L135.5,61.3 L136.0,60.3 L136.5,59.3 L137.0,58.3 L137.5,57.8 L138.0,58.1 L138.5,58.4 L139.0,58.7 L139.5,58.6 L140.0,58.6 L140.5,58.5 L141.0,59.2 L141.5,60.2 L142.0,61.2 L142.5,62.0 L143.0,62.5 L143.5,63.0 L144.0,63.5 L144.5,62.8 L145.0,62.0 L145.5,61.3 L146.0,60.2 L146.5,58.9 L147.0,57.7 L147.5,56.3 L148.0,54.8 L148.5,54.4 L149.0,54.5 L149.5,54.6 L150.0,55.0 L150.5,55.8 L151.0,56.7 L151.5,56.8 L152.0,56.9 L152.5,57.0 L153.0,57.2 L153.5,57.3 L154.0,57.4 L154.5,57.5 L155.0,57.7 L155.5,57.8 L156.0,57.9 L156.5,58.0 L157.0,58.2 L157.5,58.3 L158.0,58.2 L158.5,58.1 L159.0,58.0 L159.5,57.9 L160.0,57.8 L160.5,57.6 L161.0,57.5 L161.5,57.4 L162.0,57.2 L162.5,57.1 L163.0,57.0 L163.5,56.9 L164.0,56.8 L164.5,56.5 L165.0,56.1 L165.5,55.7 L166.0,55.3 L166.5,54.9 L167.0,54.9 L167.5,55.5 L168.0,56.1 L168.5,56.7 L169.0,56.4 L169.5,56.2 L170.0,55.9 L170.5,56.4 L171.0,57.2 L171.5,58.1 L172.0,58.9 L172.5,59.7 L173.0,60.8 L173.5,62.1 L174.0,63.3 L174.5,64.4 L175.0,65.2 L175.5,65.9 L176.0,66.7 L176.5,65.7 L177.0,64.7 L177.5,63.7 L178.0,62.8 L178.5,62.1 L179.0,61.3 L179.5,60.8 L180.0,60.6 L180.5,60.4 L181.0,60.3 L181.5,60.1 L182.0,60.1 L182.5,60.4 L183.0,60.8 L183.5,61.1 L184.0,61.4 L184.5,61.4 L185.0,60.8 L185.5,60.1 L186.0,59.4 L186.5,58.8 L187.0,58.3 L187.5,58.1 L188.0,57.9 L188.5,57.7 L189.0,57.5 L189.5,58.8 L190.0,60.0 L190.5,61.2 L191.0,62.5 L191.5,63.3 L192.0,64.0 L192.5,64.8 L193.0,65.7 L193.5,66.7 L194.0,67.7 L194.5,68.3 L195.0,68.1 L195.5,67.8 L196.0,67.6 L196.5,66.9 L197.0,65.2 L197.5,63.4 L198.0,61.7 L198.5,60.4 L199.0,59.2 L199.5,57.9 L200.0,57.9 L200.5,58.5 L201.0,59.0 L201.5,59.6 L202.0,60.2 L202.5,60.9 L203.0,61.6 L203.5,62.2 L204.0,62.9 L204.5,63.1 L205.0,62.4 L205.5,61.8 L206.0,61.1 L206.5,60.4 L207.0,59.9 L207.5,59.5 L208.0,59.1 L208.5,58.7 L209.0,59.3 L209.5,59.9 L210.0,60.5 L210.5,61.1 L211.0,61.7 L211.5,62.2 L212.0,62.7 L212.5,63.2 L213.0,63.7 L213.5,64.2 L214.0,64.7 L214.5,65.2 L215.0,65.7 L215.5,66.2 L216.0,66.7 L216.5,66.8 L217.0,66.9 L217.5,67.0 L218.0,67.2 L218.5,67.3 L219.0,67.4 L219.5,67.6 L220.0,67.7 L220.5,67.9 L221.0,68.1 L221.5,68.2 L222.0,68.0 L222.5,67.0 L223.0,66.0 L223.5,65.0 L224.0,64.2 L224.5,63.5 L225.0,62.7 L225.5,61.9 L226.0,61.3 L226.5,60.7 L227.0,60.1 L227.5,59.9 L228.0,60.6 L228.5,61.3 L229.0,62.0 L229.5,62.8 L230.0,63.8 L230.5,64.8 L231.0,65.8 L231.5,66.2 L232.0,66.5 L232.5,66.8 L233.0,67.2 L233.5,67.5 L234.0,68.0 L234.5,68.5 L235.0,69.0 L235.5,68.9 L236.0,68.6 L236.5,68.3 L237.0,67.9 L237.5,67.6 L238.0,67.3 L238.5,67.1 L239.0,66.8 L239.5,66.6 L240.0,66.3 L240.5,66.1 L241.0,65.8 L241.5,65.5 L242.0,65.2 L242.5,64.8 L243.0,64.5 L243.5,64.2 L244.0,64.2 L244.5,64.3 L245.0,64.4 L245.5,64.5 L246.0,64.5 L246.5,64.6 L247.0,64.6 L247.5,64.4 L248.0,64.2 L248.5,64.0 L249.0,63.8 L249.5,63.6 L250.0,63.4 L250.5,63.5 L251.0,63.6 L251.5,63.8 L252.0,64.0 L252.5,64.2 L253.0,64.8 L253.5,65.5 L254.0,66.2 L254.5,66.8 L255.0,67.5 L255.5,68.0 L256.0,68.5 L256.5,69.0 L257.0,68.8 L257.5,68.3 L258.0,67.8 L258.5,67.3 L259.0,66.8 L259.5,66.2 L260.0,65.6 L260.5,64.9 L261.0,64.2 L261.5,63.6 L262.0,62.3 L262.5,60.8 L263.0,59.3 L263.5,58.2 L264.0,57.9 L264.5,57.6 L265.0,57.2 L265.5,57.1 L266.0,57.3 L266.5,57.5 L267.0,57.8 L267.5,58.0 L268.0,58.7 L268.5,59.5 L269.0,60.2 L269.5,60.9 L270.0,61.7 L270.5,62.3 L271.0,63.0 L271.5,63.7 L272.0,64.3 L272.5,65.0 L273.0,65.3 L273.5,65.7 L274.0,66.0 L274.5,66.3 L275.0,66.7 L275.5,66.8 L276.0,67.0 L276.5,67.2 L277.0,67.3 L277.5,67.5 L278.0,68.0 L278.5,68.5 L279.0,69.0 L279.5,69.5 L280.0,70.0 L280.5,70.3 L281.0,70.5 L281.5,70.8 L282.0,71.1 L282.5,71.3 L283.0,71.7 L283.5,72.1 L284.0,72.5 L284.5,72.9 L285.0,73.3 L285.5,73.1 L286.0,72.8 L286.5,72.5 L287.0,72.3 L287.5,72.0 L288.0,72.4 L288.5,72.9 L289.0,73.3 L289.5,73.7 L290.0,74.2 L290.5,74.5 L291.0,74.8 L291.5,75.2 L292.0,75.5 L292.5,75.8 L293.0,75.8 L293.5,75.8 L294.0,75.8 L294.5,75.8 L295.0,75.8 L295.5,76.2 L296.0,76.5 L296.5,76.8 L297.0,77.2 L297.5,77.5 L298.0,77.8 L298.5,78.0 L299.0,78.3 L299.5,78.6 L300.0,78.1 L300.5,77.1 L301.0,76.2 L301.5,75.3 L302.0,74.8 L302.5,74.4 L303.0,74.1 L303.5,73.8 L304.0,73.4 L304.5,72.6 L305.0,71.6 L305.5,70.5 L306.0,69.4 L306.5,68.4 L307.0,68.6 L307.5,69.5 L308.0,70.4 L308.5,71.4 L309.0,72.2 L309.5,72.9 L310.0,73.7 L310.5,74.5 L311.0,75.1 L311.5,75.4 L312.0,75.8 L312.5,76.1 L313.0,76.4 L313.5,76.7 L314.0,76.8 L314.0,144.8 L313.5,145.0 L313.0,145.4 L312.5,145.9 L312.0,145.6 L311.5,145.2 L311.0,144.9 L310.5,144.8 L310.0,144.9 L309.5,145.4 L309.0,145.8 L308.5,146.3 L308.0,146.9 L307.5,147.5 L307.0,148.2 L306.5,148.2 L306.0,147.0 L305.5,145.7 L305.0,144.4 L304.5,142.9 L304.0,141.6 L303.5,140.8 L303.0,140.0 L302.5,139.2 L302.0,139.9 L301.5,140.4 L301.0,140.4 L300.5,139.5 L300.0,138.1 L299.5,137.1 L299.0,136.4 L298.5,134.9 L298.0,133.4 L297.5,131.8 L297.0,131.0 L296.5,130.1 L296.0,129.2 L295.5,129.4 L295.0,130.1 L294.5,130.4 L294.0,130.7 L293.5,131.1 L293.0,131.3 L292.5,131.5 L292.0,132.0 L291.5,132.6 L291.0,133.1 L290.5,133.6 L290.0,134.1 L289.5,134.6 L289.0,135.2 L288.5,135.8 L288.0,136.6 L287.5,137.6 L287.0,137.8 L286.5,138.1 L286.0,138.4 L285.5,138.4 L285.0,138.2 L284.5,138.8 L284.0,139.3 L283.5,139.8 L283.0,139.9 L282.5,139.8 L282.0,139.5 L281.5,139.2 L281.0,139.0 L280.5,138.4 L280.0,137.8 L279.5,137.3 L279.0,136.9 L278.5,136.5 L278.0,135.5 L277.5,134.2 L277.0,132.5 L276.5,131.1 L276.0,130.1 L275.5,129.0 L275.0,128.0 L274.5,128.2 L274.0,128.4 L273.5,128.6 L273.0,128.7 L272.5,128.9 L272.0,129.4 L271.5,129.9 L271.0,130.4 L270.5,130.9 L270.0,131.3 L269.5,131.9 L269.0,132.3 L268.5,132.6 L268.0,132.8 L267.5,133.1 L267.0,132.9 L266.5,132.9 L266.0,133.5 L265.5,134.0 L265.0,134.2 L264.5,134.2 L264.0,134.4 L263.5,134.8 L263.0,134.5 L262.5,133.8 L262.0,133.1 L261.5,132.6 L261.0,132.5 L260.5,132.4 L260.0,132.2 L259.5,132.1 L259.0,132.1 L258.5,132.4 L258.0,132.7 L257.5,133.0 L257.0,131.8 L256.5,131.0 L256.0,130.8 L255.5,130.7 L255.0,130.5 L254.5,130.5 L254.0,130.5 L253.5,130.5 L253.0,130.5 L252.5,130.5 L252.0,130.5 L251.5,130.5 L251.0,130.4 L250.5,130.4 L250.0,130.3 L249.5,128.8 L249.0,128.0 L248.5,127.4 L248.0,126.9 L247.5,126.4 L247.0,125.8 L246.5,125.4 L246.0,125.1 L245.5,124.8 L245.0,124.4 L244.5,124.1 L244.0,123.8 L243.5,124.4 L243.0,124.6 L242.5,124.8 L242.0,125.0 L241.5,125.1 L241.0,125.3 L240.5,125.5 L240.0,125.7 L239.5,125.9 L239.0,126.2 L238.5,126.5 L238.0,126.8 L237.5,127.0 L237.0,127.2 L236.5,127.3 L236.0,127.3 L235.5,127.3 L235.0,127.6 L234.5,128.4 L234.0,129.3 L233.5,130.2 L233.0,130.9 L232.5,131.7 L232.0,131.2 L231.5,130.2 L231.0,129.1 L230.5,128.8 L230.0,128.7 L229.5,129.5 L229.0,130.0 L228.5,130.5 L228.0,130.9 L227.5,131.6 L227.0,131.9 L226.5,131.8 L226.0,131.6 L225.5,131.4 L225.0,131.2 L224.5,131.1 L224.0,131.0 L223.5,130.9 L223.0,130.6 L222.5,129.7 L222.0,127.8 L221.5,126.8 L221.0,126.1 L220.5,125.4 L220.0,124.7 L219.5,124.0 L219.0,123.4 L218.5,122.7 L218.0,122.0 L217.5,121.6 L217.0,121.6 L216.5,121.6 L216.0,121.6 L215.5,121.9 L215.0,122.5 L214.5,123.5 L214.0,124.4 L213.5,125.4 L213.0,126.4 L212.5,127.4 L212.0,128.6 L211.5,129.7 L211.0,130.9 L210.5,132.2 L210.0,133.1 L209.5,133.5 L209.0,133.9 L208.5,134.3 L208.0,133.7 L207.5,133.0 L207.0,132.1 L206.5,131.1 L206.0,129.9 L205.5,128.7 L205.0,127.6 L204.5,126.4 L204.0,126.1 L203.5,126.3 L203.0,126.5 L202.5,126.7 L202.0,126.9 L201.5,127.6 L201.0,128.5 L200.5,129.4 L200.0,130.3 L199.5,130.6 L199.0,130.2 L198.5,129.9 L198.0,129.7 L197.5,128.9 L197.0,128.2 L196.5,126.1 L196.0,124.4 L195.5,123.2 L195.0,121.9 L194.5,120.7 L194.0,120.5 L193.5,120.7 L193.0,120.9 L192.5,121.0 L192.0,120.9 L191.5,121.2 L191.0,121.6 L190.5,122.5 L190.0,123.4 L189.5,124.4 L189.0,125.8 L188.5,126.1 L188.0,126.4 L187.5,126.6 L187.0,126.9 L186.5,127.0 L186.0,127.0 L185.5,127.0 L185.0,127.0 L184.5,127.0 L184.0,127.0 L183.5,127.0 L183.0,127.0 L182.5,127.0 L182.0,127.0 L181.5,127.6 L181.0,128.4 L180.5,129.2 L180.0,130.1 L179.5,130.9 L179.0,131.3 L178.5,131.6 L178.0,131.8 L177.5,131.5 L177.0,130.0 L176.5,128.5 L176.0,127.0 L175.5,126.4 L175.0,125.8 L174.5,125.2 L174.0,125.0 L173.5,124.9 L173.0,125.5 L172.5,125.9 L172.0,126.1 L171.5,126.3 L171.0,126.4 L170.5,127.3 L170.0,127.8 L169.5,127.5 L169.0,127.2 L168.5,127.0 L168.0,127.6 L167.5,128.5 L167.0,130.1 L166.5,131.1 L166.0,131.7 L165.5,132.3 L165.0,132.9 L164.5,133.5 L164.0,134.2 L163.5,135.1 L163.0,133.7 L162.5,132.2 L162.0,130.8 L161.5,129.3 L161.0,127.8 L160.5,127.6 L160.0,127.3 L159.5,127.1 L159.0,126.8 L158.5,126.5 L158.0,126.2 L157.5,126.0 L157.0,125.9 L156.5,125.8 L156.0,125.8 L155.5,126.2 L155.0,126.7 L154.5,127.1 L154.0,127.6 L153.5,128.0 L153.0,128.2 L152.5,128.3 L152.0,128.4 L151.5,128.5 L151.0,128.7 L150.5,129.4 L150.0,130.1 L149.5,130.7 L149.0,131.2 L148.5,131.7 L148.0,131.6 L147.5,130.5 L147.0,130.0 L146.5,129.7 L146.0,129.5 L145.5,129.4 L145.0,129.7 L144.5,129.5 L144.0,129.1 L143.5,129.9 L143.0,130.7 L142.5,131.6 L142.0,131.8 L141.5,131.8 L141.0,131.8 L140.5,131.5 L140.0,130.4 L139.5,129.2 L139.0,127.8 L138.5,126.7 L138.0,125.7 L137.5,124.7 L137.0,122.7 L136.5,120.2 L136.0,117.7 L135.5,115.9 L135.0,115.7 L134.5,115.4 L134.0,115.2 L133.5,116.7 L133.0,118.2 L132.5,119.7 L132.0,121.2 L131.5,122.7 L131.0,123.2 L130.5,123.7 L130.0,124.2 L129.5,124.3 L129.0,124.3 L128.5,124.3 L128.0,124.6 L127.5,125.4 L127.0,126.8 L126.5,128.6 L126.0,130.3 L125.5,130.9 L125.0,131.3 L124.5,131.8 L124.0,132.2 L123.5,133.1 L123.0,133.4 L122.5,132.5 L122.0,131.6 L121.5,130.7 L121.0,130.0 L120.5,129.4 L120.0,128.7 L119.5,128.0 L119.0,127.3 L118.5,126.5 L118.0,125.8 L117.5,125.1 L117.0,124.6 L116.5,124.2 L116.0,124.0 L115.5,123.8 L115.0,123.6 L114.5,123.4 L114.0,123.2 L113.5,123.3 L113.0,123.2 L112.5,122.7 L112.0,122.1 L111.5,121.6 L111.0,121.7 L110.5,121.8 L110.0,121.8 L109.5,121.2 L109.0,120.3 L108.5,121.8 L108.0,123.2 L107.5,124.7 L107.0,125.8 L106.5,126.8 L106.0,127.8 L105.5,128.1 L105.0,127.1 L104.5,126.0 L104.0,124.9 L103.5,124.6 L103.0,124.2 L102.5,123.7 L102.0,123.2 L101.5,122.7 L101.0,123.2 L100.5,123.7 L100.0,124.2 L99.5,123.7 L99.0,122.7 L98.5,121.9 L98.0,121.4 L97.5,121.3 L97.0,122.2 L96.5,123.6 L96.0,125.1 L95.5,126.0 L95.0,125.9 L94.5,125.8 L94.0,125.7 L93.5,125.9 L93.0,125.6 L92.5,124.4 L92.0,124.2 L91.5,124.3 L91.0,124.5 L90.5,124.4 L90.0,123.9 L89.5,123.4 L89.0,122.8 L88.5,122.2 L88.0,121.5 L87.5,120.5 L87.0,119.5 L86.5,118.5 L86.0,118.9 L85.5,119.2 L85.0,119.6 L84.5,121.7 L84.0,121.3 L83.5,120.9 L83.0,121.0 L82.5,122.1 L82.0,123.2 L81.5,124.3 L81.0,125.3 L80.5,126.3 L80.0,127.3 L79.5,128.2 L79.0,128.9 L78.5,127.9 L78.0,127.3 L77.5,127.3 L77.0,127.3 L76.5,127.3 L76.0,127.3 L75.5,127.3 L75.0,127.2 L74.5,127.2 L74.0,127.1 L73.5,127.0 L73.0,126.9 L72.5,126.9 L72.0,126.8 L71.5,126.8 L71.0,126.8 L70.5,126.8 L70.0,126.8 L69.5,126.8 L69.0,126.8 L68.5,126.5 L68.0,126.1 L67.5,125.7 L67.0,125.3 L66.5,125.0 L66.0,124.6 L65.5,124.6 L65.0,125.2 L64.5,125.9 L64.0,126.6 L63.5,125.3 L63.0,124.1 L62.5,123.2 L62.0,122.2 L61.5,121.2 L61.0,120.3 L60.5,119.3 L60.0,118.1 L59.5,116.9 L59.0,115.8 L58.5,115.4 L58.0,113.7 L57.5,112.0 L57.0,110.6 L56.5,109.4 L56.0,110.1 L55.5,110.8 L55.0,111.5 L54.5,111.6 L54.0,111.5 L53.5,113.2 L53.0,114.5 L52.5,115.0 L52.0,115.4 L51.5,115.8 L51.0,116.7 L50.5,117.1 L50.0,117.5 L49.5,114.9 L49.0,110.8 L48.5,114.7 L48.0,127.5 L47.5,138.3 L47.0,134.0 L46.5,153.5 L46.0,120.5Z" fill="rgb(251,184,175)" fill-opacity="0.55" stroke="none"/>
</g>
<rect x="46.5" y="168.8" width="70.8" height="53.8" fill="#fff"/>
<line x1="46.0" y1="17.5" x2="314.0" y2="17.5" stroke="#e4e4e4" stroke-width="0.8"/>
<line x1="46.5" y1="17.5" x2="46.5" y2="223.4" stroke="#555" stroke-width="0.62"/>
<line x1="46.1" y1="223.0" x2="314.0" y2="223.0" stroke="#555" stroke-width="0.9"/>
<line x1="45.70" y1="223.0" x2="45.70" y2="220.5" stroke="#8c8c8c" stroke-width="0.8"/>
<text x="45.70" y="240.5" text-anchor="middle" class="tk">0</text>
<line x1="116.38" y1="223.0" x2="116.38" y2="220.5" stroke="#8c8c8c" stroke-width="0.8"/>
<text x="116.38" y="240.5" text-anchor="middle" class="tk">10</text>
<line x1="187.06" y1="223.0" x2="187.06" y2="220.5" stroke="#8c8c8c" stroke-width="0.8"/>
<text x="187.06" y="240.5" text-anchor="middle" class="tk">20</text>
<line x1="257.74" y1="223.0" x2="257.74" y2="220.5" stroke="#8c8c8c" stroke-width="0.8"/>
<text x="257.74" y="240.5" text-anchor="middle" class="tk">30</text>
<line x1="46.0" y1="17.5" x2="48.5" y2="17.5" stroke="#8c8c8c" stroke-width="0.8"/>
<text x="41.25" y="22.9" text-anchor="end" class="tk">0.2</text>
<line x1="46.0" y1="69.0" x2="48.5" y2="69.0" stroke="#8c8c8c" stroke-width="0.8"/>
<text x="41.25" y="74.4" text-anchor="end" class="tk">0.1</text>
<line x1="46.0" y1="120.5" x2="48.5" y2="120.5" stroke="#8c8c8c" stroke-width="0.8"/>
<text x="41.25" y="125.9" text-anchor="end" class="tk">0</text>
<line x1="46.0" y1="171.7" x2="48.5" y2="171.7" stroke="#8c8c8c" stroke-width="0.8"/>
<text x="41.25" y="177.1" text-anchor="end" class="tk">-0.1</text>
<line x1="46.0" y1="223.0" x2="48.5" y2="223.0" stroke="#8c8c8c" stroke-width="0.8"/>
<text x="41.25" y="228.4" text-anchor="end" class="tk">-0.2</text>
<g clip-path="url(#c46l)" fill="none" stroke-linejoin="round" stroke-linecap="round" stroke-width="1.5">
<path d="M46.0,120.5 L46.5,121.0 L47.3,126.0 L48.7,131.0 L50.7,133.5 L53.2,136.0 L55.7,137.7 L58.2,138.0 L60.7,137.7 L63.2,140.2 L64.8,142.7 L67.3,141.8 L69.8,142.7 L72.3,142.3 L74.8,141.8 L77.3,140.7 L79.8,139.7 L82.3,140.2 L84.8,141.8 L87.3,143.5 L89.8,145.2 L91.5,147.3 L93.2,149.0 L94.8,147.7 L97.3,146.0 L99.8,142.7 L102.3,139.3 L104.8,137.7 L107.3,135.2 L110.7,135.7 L114.0,136.3 L117.3,135.2 L119.8,134.7 L122.3,135.7 L125.7,136.8 L129.0,138.5 L131.5,139.0 L134.0,137.7 L136.5,135.7 L139.0,134.7 L141.5,135.2 L144.0,135.2 L146.5,134.3 L149.0,136.0 L151.0,138.8 L153.5,139.7 L156.8,141.3 L159.3,138.8 L161.8,137.2 L164.3,136.0 L166.8,135.5 L169.3,135.0 L171.8,137.2 L174.3,139.7 L176.8,142.2 L179.3,143.3 L181.8,142.2 L184.3,137.2 L186.3,133.8 L188.0,132.7 L190.2,134.7 L192.7,138.0 L195.2,140.5 L197.7,142.2 L200.2,142.2 L202.7,140.5 L205.2,137.2 L207.7,133.8 L209.7,132.2 L211.8,134.7 L214.3,138.0 L216.8,139.3 L219.3,140.5 L221.8,142.7 L224.3,143.8 L226.8,140.5 L229.0,135.5 L230.7,133.0 L232.7,135.5 L235.2,140.5 L237.7,143.3 L241.0,143.0 L244.3,142.7 L247.7,141.3 L250.0,136.8 L251.7,134.0 L253.7,133.0 L255.8,135.2 L258.0,139.3 L260.0,141.8 L262.5,143.5 L264.7,144.3 L266.7,142.7 L268.7,141.8 L270.3,139.3 L272.0,135.2 L273.7,131.3 L275.0,130.2 L276.7,131.0 L278.3,134.0 L280.3,136.8 L282.5,139.7 L284.7,142.3 L286.7,144.0 L288.7,144.7 L290.3,142.7 L292.0,139.7 L293.7,138.5 L295.8,139.7 L298.0,141.0 L300.0,142.3 L301.7,140.7 L303.3,139.0 L305.0,141.0 L306.7,144.0 L308.3,146.0 L310.3,147.3 L312.0,149.0 L313.7,151.0" stroke="#504ad9"/>
<path d="M46.4,120.5 L47.0,110.0 L47.6,104.0 L49.0,101.8 L51.5,103.5 L53.2,106.8 L55.7,111.0 L58.2,113.5 L60.7,112.7 L63.2,116.0 L65.7,117.3 L69.0,116.3 L71.5,115.7 L74.0,113.5 L75.7,112.3 L78.2,114.3 L80.7,116.0 L83.2,117.7 L85.7,115.2 L87.7,114.7 L89.8,118.5 L92.3,118.5 L94.8,117.7 L97.3,120.2 L99.8,121.0 L102.3,118.5 L104.8,116.0 L107.3,114.0 L109.8,116.0 L112.3,117.3 L114.8,115.2 L117.3,112.3 L119.0,111.0 L120.7,113.5 L123.2,116.8 L125.7,116.8 L128.2,115.2 L129.8,116.8 L131.5,115.2 L133.2,117.7 L135.7,118.5 L138.2,119.0 L140.7,120.7 L143.2,121.3 L144.8,119.3 L146.5,116.0 L148.2,114.0 L150.0,113.0 L151.0,113.8 L153.5,116.3 L156.0,119.7 L158.5,118.8 L161.0,117.2 L163.5,116.3 L166.0,117.7 L168.5,119.7 L171.0,119.3 L173.5,117.7 L176.0,117.2 L178.5,118.8 L180.7,120.0 L182.7,117.2 L185.2,114.7 L187.3,113.3 L189.3,112.2 L191.8,115.5 L194.3,117.2 L196.8,117.7 L199.3,118.0 L201.8,120.5 L204.0,121.7 L206.0,118.0 L208.5,117.2 L211.0,118.0 L213.5,120.5 L216.0,122.7 L218.5,123.8 L221.0,123.8 L223.5,122.2 L226.0,119.7 L228.0,118.3 L230.7,118.8 L232.7,120.0 L235.2,123.0 L237.7,125.5 L240.2,128.8 L242.3,130.5 L244.3,129.7 L246.8,126.3 L249.0,123.0 L250.0,123.5 L252.5,124.3 L255.0,126.0 L257.5,126.8 L260.0,128.0 L262.5,129.3 L265.0,130.7 L267.5,129.0 L270.0,127.7 L272.5,127.3 L275.0,126.3 L276.7,127.7 L278.3,129.0 L280.0,128.0 L282.0,126.3 L284.2,127.3 L286.7,128.5 L289.2,130.7 L290.8,131.3 L293.0,128.5 L295.0,126.8 L296.7,128.5 L298.3,131.0 L300.0,134.0 L301.7,131.0 L303.3,126.3 L304.5,125.7 L306.3,128.0 L308.3,130.7 L310.0,131.8 L311.7,136.0 L313.3,141.0" stroke="#46d046"/>
<path d="M46.0,120.5 L46.6,110.0 L47.0,89.3 L48.7,71.0 L49.8,79.3 L51.5,81.0 L53.2,83.5 L54.8,84.0 L57.3,82.7 L59.0,82.7 L60.7,85.2 L63.2,87.7 L65.7,91.0 L69.0,93.5 L72.3,95.2 L75.7,96.0 L79.0,95.2 L81.5,90.2 L83.2,86.0 L84.8,84.3 L86.5,86.8 L88.2,90.2 L90.7,93.5 L93.2,95.2 L95.7,93.5 L98.2,91.8 L99.8,91.8 L101.5,89.3 L103.2,88.5 L105.7,86.8 L108.2,89.3 L110.7,91.8 L113.2,94.0 L116.5,94.7 L119.8,96.0 L123.2,95.7 L125.7,93.5 L127.3,91.8 L129.8,91.8 L131.5,92.7 L134.0,89.3 L135.7,88.5 L137.3,91.0 L139.8,94.3 L142.3,96.8 L144.8,96.0 L147.3,93.5 L149.8,92.5 L151.0,92.7 L153.5,92.7 L156.0,91.8 L158.5,92.3 L161.0,92.7 L163.5,96.0 L166.0,93.5 L167.7,91.8 L171.0,91.8 L173.5,93.5 L176.0,96.8 L177.7,97.7 L180.2,95.2 L181.8,93.5 L184.3,94.3 L186.8,92.7 L189.3,91.5 L191.8,92.3 L194.3,94.3 L196.8,96.8 L199.3,94.3 L201.8,93.5 L204.3,94.7 L207.7,96.3 L210.2,96.8 L212.7,95.2 L215.2,94.0 L217.7,94.3 L220.2,96.3 L222.7,98.5 L225.2,96.8 L227.7,95.7 L230.2,96.3 L232.3,99.3 L234.3,98.5 L236.8,97.7 L239.3,96.3 L241.8,95.2 L244.0,94.0 L246.8,95.2 L249.3,96.0 L250.0,96.8 L252.5,97.3 L255.0,99.0 L257.5,100.7 L259.2,99.3 L261.7,98.0 L264.2,96.0 L266.7,95.2 L269.2,96.3 L271.7,96.8 L275.0,97.3 L276.7,99.3 L278.3,102.3 L280.8,104.7 L283.3,106.0 L285.8,105.7 L288.3,104.3 L290.8,104.0 L293.3,103.5 L295.8,102.7 L297.5,104.7 L299.2,107.7 L300.8,108.5 L302.5,106.8 L305.0,108.0 L307.5,108.5 L310.0,109.3 L312.5,111.0" stroke="#cd4e56"/>
</g>
<text x="179.9" y="12.2" text-anchor="middle" class="ti">Synchronous Condition</text>
<text x="179.7" y="258.5" text-anchor="middle" class="al">time (s)</text>
<text transform="translate(12.2,120.5) rotate(-90)" text-anchor="middle" class="al">Force [N]</text>
<line x1="56.00" y1="177.35" x2="77.80" y2="177.35" stroke="#4444e2" stroke-width="1.5"/>
<text  x="79.80" y="182.1" class="lg">Left</text>
<line x1="56.00" y1="192.75" x2="77.80" y2="192.75" stroke="#40d248" stroke-width="1.5"/>
<text  x="79.80" y="197.5" class="lg">Center</text>
<line x1="56.00" y1="208.15" x2="77.80" y2="208.15" stroke="#de484a" stroke-width="1.5"/>
<text  x="79.80" y="212.9" class="lg">Right</text>
<clipPath id="c374"><rect x="374.0" y="17.5" width="268.0" height="205.5"/></clipPath>
<clipPath id="c374l"><rect x="373.0" y="17.5" width="269.0" height="205.5"/></clipPath>
<line x1="444.45" y1="17.5" x2="444.45" y2="223.0" stroke="#eeeeee" stroke-width="0.7"/>
<line x1="514.90" y1="17.5" x2="514.90" y2="223.0" stroke="#eeeeee" stroke-width="0.7"/>
<line x1="585.35" y1="17.5" x2="585.35" y2="223.0" stroke="#eeeeee" stroke-width="0.7"/>
<line x1="374.0" y1="69.0" x2="642.0" y2="69.0" stroke="#ececec" stroke-width="0.8"/>
<line x1="374.0" y1="120.5" x2="642.0" y2="120.5" stroke="#ececec" stroke-width="0.8"/>
<line x1="374.0" y1="171.7" x2="642.0" y2="171.7" stroke="#ececec" stroke-width="0.8"/>
<g clip-path="url(#c374)">
<path d="M374.0,120.5 L374.5,101.0 L375.0,82.9 L375.5,72.8 L376.0,70.2 L376.5,67.8 L377.0,65.7 L377.5,63.7 L378.0,62.4 L378.5,59.6 L379.0,56.8 L379.5,58.0 L380.0,60.0 L380.5,61.9 L381.0,64.1 L381.5,67.0 L382.0,70.2 L382.5,70.0 L383.0,69.9 L383.5,70.2 L384.0,72.1 L384.5,74.8 L385.0,74.8 L385.5,74.4 L386.0,73.3 L386.5,72.8 L387.0,72.6 L387.5,72.4 L388.0,72.6 L388.5,73.4 L389.0,74.3 L389.5,75.1 L390.0,75.9 L390.5,76.9 L391.0,78.1 L391.5,79.2 L392.0,80.4 L392.5,81.6 L393.0,83.1 L393.5,85.3 L394.0,87.3 L394.5,89.2 L395.0,91.5 L395.5,93.8 L396.0,96.4 L396.5,98.6 L397.0,100.7 L397.5,102.6 L398.0,104.1 L398.5,104.5 L399.0,105.0 L399.5,105.5 L400.0,105.2 L400.5,105.0 L401.0,104.7 L401.5,103.4 L402.0,101.6 L402.5,99.7 L403.0,97.7 L403.5,95.4 L404.0,93.0 L404.5,90.7 L405.0,88.4 L405.5,86.1 L406.0,83.8 L406.5,81.9 L407.0,80.3 L407.5,78.7 L408.0,77.1 L408.5,75.7 L409.0,74.9 L409.5,74.1 L410.0,73.3 L410.5,74.2 L411.0,75.2 L411.5,76.5 L412.0,77.8 L412.5,78.8 L413.0,79.9 L413.5,80.9 L414.0,80.9 L414.5,80.3 L415.0,79.7 L415.5,79.1 L416.0,79.4 L416.5,80.2 L417.0,81.1 L417.5,81.9 L418.0,82.8 L418.5,83.8 L419.0,84.9 L419.5,85.9 L420.0,88.0 L420.5,89.9 L421.0,91.9 L421.5,93.5 L422.0,95.0 L422.5,96.4 L423.0,97.6 L423.5,98.2 L424.0,98.8 L424.5,99.4 L425.0,100.1 L425.5,100.5 L426.0,100.7 L426.5,100.8 L427.0,101.0 L427.5,101.1 L428.0,101.0 L428.5,100.4 L429.0,99.9 L429.5,99.3 L430.0,98.7 L430.5,98.2 L431.0,97.5 L431.5,96.8 L432.0,96.2 L432.5,95.9 L433.0,96.4 L433.5,96.9 L434.0,97.5 L434.5,98.0 L435.0,98.8 L435.5,99.7 L436.0,100.5 L436.5,101.3 L437.0,102.1 L437.5,102.9 L438.0,103.7 L438.5,104.6 L439.0,105.4 L439.5,106.2 L440.0,106.8 L440.5,108.0 L441.0,109.2 L441.5,110.5 L442.0,111.7 L442.5,112.8 L443.0,114.0 L443.5,115.1 L444.0,116.3 L444.5,117.5 L445.0,118.3 L445.5,118.5 L446.0,117.7 L446.5,116.8 L447.0,116.0 L447.5,113.9 L448.0,111.8 L448.5,109.8 L449.0,107.8 L449.5,105.9 L450.0,104.0 L450.5,102.1 L451.0,100.1 L451.5,98.1 L452.0,96.0 L452.5,94.5 L453.0,93.8 L453.5,93.4 L454.0,93.3 L454.5,93.2 L455.0,93.5 L455.5,94.8 L456.0,96.0 L456.5,97.2 L457.0,98.5 L457.5,100.2 L458.0,101.8 L458.5,103.5 L459.0,105.2 L459.5,106.8 L460.0,108.2 L460.5,109.6 L461.0,111.1 L461.5,112.3 L462.0,113.3 L462.5,114.0 L463.0,114.7 L463.5,115.6 L464.0,116.8 L464.5,117.1 L465.0,117.4 L465.5,117.8 L466.0,118.1 L466.5,118.3 L467.0,118.5 L467.5,118.5 L468.0,118.2 L468.5,118.0 L469.0,117.7 L469.5,117.4 L470.0,117.5 L470.5,117.6 L471.0,117.7 L471.5,117.8 L472.0,117.7 L472.5,117.4 L473.0,117.2 L473.5,116.9 L474.0,116.5 L474.5,116.0 L475.0,115.5 L475.5,115.0 L476.0,114.5 L476.5,114.2 L477.0,113.9 L477.5,113.6 L478.0,113.3 L478.5,111.7 L479.0,110.0 L479.5,108.6 L480.0,108.8 L480.5,108.9 L481.0,109.1 L481.5,108.2 L482.0,107.3 L482.5,106.8 L483.0,106.4 L483.5,106.0 L484.0,105.6 L484.5,105.3 L485.0,105.1 L485.5,105.1 L486.0,105.8 L486.5,106.5 L487.0,106.6 L487.5,106.9 L488.0,107.9 L488.5,108.9 L489.0,109.9 L489.5,110.5 L490.0,111.0 L490.5,111.5 L491.0,112.0 L491.5,112.6 L492.0,113.8 L492.5,114.5 L493.0,115.2 L493.5,116.0 L494.0,116.4 L494.5,116.7 L495.0,116.8 L495.5,116.5 L496.0,115.7 L496.5,114.5 L497.0,113.3 L497.5,112.1 L498.0,110.8 L498.5,109.9 L499.0,109.3 L499.5,108.7 L500.0,108.6 L500.5,109.9 L501.0,110.7 L501.5,110.9 L502.0,111.2 L502.5,111.4 L503.0,111.7 L503.5,111.7 L504.0,111.6 L504.5,111.5 L505.0,111.3 L505.5,111.1 L506.0,111.0 L506.5,110.9 L507.0,110.8 L507.5,110.7 L508.0,110.8 L508.5,110.9 L509.0,111.1 L509.5,111.2 L510.0,111.5 L510.5,112.1 L511.0,112.7 L511.5,113.3 L512.0,113.9 L512.5,114.4 L513.0,114.9 L513.5,115.2 L514.0,115.4 L514.5,116.0 L515.0,116.5 L515.5,116.6 L516.0,116.7 L516.5,117.4 L517.0,118.1 L517.5,116.7 L518.0,116.3 L518.5,116.2 L519.0,116.2 L519.5,116.5 L520.0,116.4 L520.5,115.5 L521.0,114.6 L521.5,113.7 L522.0,113.2 L522.5,112.5 L523.0,111.8 L523.5,111.2 L524.0,110.5 L524.5,110.5 L525.0,110.5 L525.5,110.5 L526.0,110.5 L526.5,109.5 L527.0,108.2 L527.5,106.9 L528.0,107.0 L528.5,107.8 L529.0,108.6 L529.5,109.7 L530.0,111.2 L530.5,112.7 L531.0,114.2 L531.5,114.7 L532.0,115.5 L532.5,116.3 L533.0,116.9 L533.5,117.2 L534.0,117.6 L534.5,118.3 L535.0,118.7 L535.5,118.4 L536.0,118.1 L536.5,117.8 L537.0,117.5 L537.5,117.3 L538.0,117.2 L538.5,117.2 L539.0,117.2 L539.5,117.1 L540.0,117.1 L540.5,117.2 L541.0,117.2 L541.5,117.2 L542.0,116.9 L542.5,116.6 L543.0,116.1 L543.5,115.6 L544.0,115.1 L544.5,114.7 L545.0,114.4 L545.5,114.1 L546.0,113.7 L546.5,113.4 L547.0,112.9 L547.5,112.3 L548.0,111.5 L548.5,110.7 L549.0,111.2 L549.5,112.2 L550.0,113.1 L550.5,113.9 L551.0,114.4 L551.5,114.9 L552.0,115.6 L552.5,115.7 L553.0,114.7 L553.5,113.7 L554.0,112.7 L554.5,111.8 L555.0,111.2 L555.5,110.6 L556.0,110.0 L556.5,109.3 L557.0,109.4 L557.5,109.5 L558.0,109.5 L558.5,109.6 L559.0,109.7 L559.5,110.0 L560.0,110.3 L560.5,110.6 L561.0,110.9 L561.5,111.2 L562.0,111.4 L562.5,111.6 L563.0,111.8 L563.5,112.0 L564.0,112.2 L564.5,112.1 L565.0,111.9 L565.5,111.8 L566.0,111.7 L566.5,111.8 L567.0,112.0 L567.5,112.2 L568.0,112.1 L568.5,111.9 L569.0,111.6 L569.5,111.7 L570.0,111.6 L570.5,111.4 L571.0,112.3 L571.5,112.1 L572.0,111.9 L572.5,111.7 L573.0,111.0 L573.5,110.3 L574.0,109.6 L574.5,109.0 L575.0,108.4 L575.5,107.9 L576.0,107.1 L576.5,106.6 L577.0,106.1 L577.5,105.3 L578.0,104.6 L578.5,104.0 L579.0,103.0 L579.5,102.5 L580.0,103.0 L580.5,103.4 L581.0,103.6 L581.5,104.1 L582.0,104.6 L582.5,105.2 L583.0,105.5 L583.5,106.0 L584.0,106.1 L584.5,105.2 L585.0,104.9 L585.5,105.5 L586.0,106.7 L586.5,108.1 L587.0,109.1 L587.5,109.7 L588.0,110.2 L588.5,110.3 L589.0,110.0 L589.5,109.8 L590.0,109.4 L590.5,108.5 L591.0,107.7 L591.5,106.7 L592.0,105.9 L592.5,105.1 L593.0,103.8 L593.5,103.3 L594.0,102.8 L594.5,102.2 L595.0,101.7 L595.5,101.2 L596.0,100.7 L596.5,100.0 L597.0,99.0 L597.5,98.0 L598.0,97.5 L598.5,97.3 L599.0,97.2 L599.5,97.6 L600.0,98.6 L600.5,99.6 L601.0,100.6 L601.5,101.3 L602.0,102.1 L602.5,102.8 L603.0,103.3 L603.5,103.8 L604.0,104.2 L604.5,104.5 L605.0,104.6 L605.5,104.7 L606.0,105.4 L606.5,105.9 L607.0,106.4 L607.5,106.3 L608.0,107.0 L608.5,107.8 L609.0,108.1 L609.5,108.2 L610.0,108.2 L610.5,108.2 L611.0,107.6 L611.5,107.4 L612.0,107.2 L612.5,106.4 L613.0,105.2 L613.5,104.0 L614.0,102.9 L614.5,101.5 L615.0,100.2 L615.5,98.9 L616.0,97.8 L616.5,97.3 L617.0,96.9 L617.5,96.5 L618.0,96.4 L618.5,96.2 L619.0,96.0 L619.5,95.8 L620.0,96.6 L620.5,97.8 L621.0,98.9 L621.5,99.5 L622.0,99.6 L622.5,99.7 L623.0,99.7 L623.5,99.7 L624.0,99.6 L624.5,99.7 L625.0,100.0 L625.5,100.2 L626.0,100.6 L626.5,101.3 L627.0,102.1 L627.5,102.9 L628.0,103.3 L628.5,103.7 L629.0,104.1 L629.5,104.0 L630.0,103.8 L630.5,103.6 L631.0,103.4 L631.5,103.0 L632.0,102.7 L632.5,102.3 L633.0,101.8 L633.5,101.1 L634.0,100.5 L634.5,100.1 L635.0,99.3 L635.5,98.3 L636.0,97.6 L636.5,96.9 L637.0,96.3 L637.5,96.1 L638.0,96.0 L638.5,95.9 L639.0,96.0 L639.5,96.2 L640.0,96.4 L640.5,96.6 L641.0,96.8 L641.5,97.0 L642.0,97.2 L642.0,191.8 L641.5,192.0 L641.0,192.2 L640.5,192.4 L640.0,192.7 L639.5,193.1 L639.0,193.5 L638.5,193.8 L638.0,194.0 L637.5,194.2 L637.0,194.3 L636.5,194.1 L636.0,193.9 L635.5,193.8 L635.0,193.3 L634.5,192.9 L634.0,192.5 L633.5,191.9 L633.0,191.2 L632.5,190.6 L632.0,190.0 L631.5,189.5 L631.0,188.9 L630.5,188.6 L630.0,188.5 L629.5,188.3 L629.0,188.1 L628.5,187.7 L628.0,187.3 L627.5,186.9 L627.0,186.5 L626.5,186.1 L626.0,185.7 L625.5,185.9 L625.0,186.3 L624.5,186.7 L624.0,187.0 L623.5,187.2 L623.0,187.4 L622.5,187.3 L622.0,187.0 L621.5,186.7 L621.0,186.6 L620.5,186.8 L620.0,187.1 L619.5,187.3 L619.0,187.8 L618.5,188.2 L618.0,188.6 L617.5,189.0 L617.0,189.5 L616.5,190.0 L616.0,190.5 L615.5,191.1 L615.0,191.8 L614.5,192.5 L614.0,193.1 L613.5,194.0 L613.0,194.8 L612.5,195.6 L612.0,196.6 L611.5,197.5 L611.0,198.5 L610.5,199.0 L610.0,199.4 L609.5,199.8 L609.0,200.2 L608.5,200.5 L608.0,200.9 L607.5,201.2 L607.0,200.5 L606.5,199.7 L606.0,198.9 L605.5,198.3 L605.0,197.7 L604.5,197.2 L604.0,196.8 L603.5,196.6 L603.0,196.4 L602.5,196.2 L602.0,196.0 L601.5,195.8 L601.0,195.7 L600.5,195.3 L600.0,195.0 L599.5,194.6 L599.0,194.0 L598.5,193.3 L598.0,192.6 L597.5,191.9 L597.0,191.1 L596.5,190.3 L596.0,189.6 L595.5,188.7 L595.0,187.7 L594.5,186.7 L594.0,185.8 L593.5,185.0 L593.0,184.2 L592.5,183.9 L592.0,184.1 L591.5,184.3 L591.0,184.6 L590.5,185.0 L590.0,185.3 L589.5,185.8 L589.0,186.2 L588.5,186.8 L588.0,187.2 L587.5,187.9 L587.0,188.8 L586.5,189.6 L586.0,190.3 L585.5,190.9 L585.0,191.4 L584.5,191.8 L584.0,191.6 L583.5,191.3 L583.0,190.5 L582.5,189.6 L582.0,188.6 L581.5,187.6 L581.0,186.6 L580.5,185.5 L580.0,184.7 L579.5,184.1 L579.0,183.4 L578.5,183.3 L578.0,183.5 L577.5,183.8 L577.0,184.2 L576.5,184.9 L576.0,185.6 L575.5,186.2 L575.0,187.1 L574.5,188.0 L574.0,188.9 L573.5,189.9 L573.0,190.8 L572.5,191.8 L572.0,192.7 L571.5,193.7 L571.0,194.7 L570.5,195.6 L570.0,195.1 L569.5,194.6 L569.0,193.9 L568.5,192.8 L568.0,191.8 L567.5,190.8 L567.0,190.0 L566.5,189.2 L566.0,188.3 L565.5,187.8 L565.0,187.2 L564.5,186.8 L564.0,186.2 L563.5,186.4 L563.0,186.5 L562.5,186.6 L562.0,186.7 L561.5,186.8 L561.0,187.0 L560.5,187.2 L560.0,187.3 L559.5,187.5 L559.0,187.7 L558.5,188.0 L558.0,188.3 L557.5,188.7 L557.0,189.0 L556.5,189.3 L556.0,189.2 L555.5,189.0 L555.0,188.8 L554.5,188.7 L554.0,188.5 L553.5,188.3 L553.0,188.2 L552.5,188.0 L552.0,187.8 L551.5,187.7 L551.0,187.3 L550.5,187.0 L550.0,186.7 L549.5,186.3 L549.0,186.0 L548.5,185.8 L548.0,185.7 L547.5,185.5 L547.0,185.3 L546.5,185.2 L546.0,185.2 L545.5,185.2 L545.0,185.2 L544.5,185.2 L544.0,185.2 L543.5,185.0 L543.0,184.8 L542.5,184.7 L542.0,184.5 L541.5,184.3 L541.0,184.5 L540.5,184.7 L540.0,184.8 L539.5,185.0 L539.0,185.2 L538.5,185.3 L538.0,185.5 L537.5,185.7 L537.0,185.8 L536.5,186.0 L536.0,186.2 L535.5,186.3 L535.0,186.5 L534.5,186.7 L534.0,186.8 L533.5,186.7 L533.0,186.5 L532.5,186.3 L532.0,186.2 L531.5,186.0 L531.0,185.5 L530.5,185.0 L530.0,184.5 L529.5,184.0 L529.0,183.5 L528.5,183.0 L528.0,182.5 L527.5,182.0 L527.0,181.5 L526.5,181.0 L526.0,180.8 L525.5,180.7 L525.0,180.5 L524.5,180.3 L524.0,180.2 L523.5,179.8 L523.0,179.5 L522.5,179.2 L522.0,178.8 L521.5,178.5 L521.0,177.8 L520.5,177.2 L520.0,176.5 L519.5,175.8 L519.0,175.2 L518.5,174.1 L518.0,173.1 L517.5,172.0 L517.0,171.0 L516.5,172.0 L516.0,172.9 L515.5,173.9 L515.0,174.8 L514.5,176.1 L514.0,177.6 L513.5,179.0 L513.0,180.6 L512.5,182.3 L512.0,184.1 L511.5,185.8 L511.0,187.6 L510.5,189.3 L510.0,191.1 L509.5,192.4 L509.0,193.6 L508.5,194.7 L508.0,195.9 L507.5,196.2 L507.0,195.0 L506.5,193.7 L506.0,192.5 L505.5,191.2 L505.0,189.9 L504.5,188.6 L504.0,187.2 L503.5,185.9 L503.0,184.7 L502.5,183.7 L502.0,182.7 L501.5,181.7 L501.0,180.7 L500.5,180.2 L500.0,180.8 L499.5,180.3 L499.0,179.3 L498.5,178.3 L498.0,177.3 L497.5,176.3 L497.0,175.4 L496.5,174.6 L496.0,173.8 L495.5,172.9 L495.0,172.1 L494.5,171.6 L494.0,171.3 L493.5,171.0 L493.0,170.8 L492.5,170.5 L492.0,170.2 L491.5,170.4 L491.0,170.7 L490.5,171.0 L490.0,171.3 L489.5,171.6 L489.0,171.8 L488.5,172.5 L488.0,173.2 L487.5,173.8 L487.0,174.5 L486.5,175.2 L486.0,176.4 L485.5,177.7 L485.0,179.0 L484.5,180.2 L484.0,181.5 L483.5,182.6 L483.0,183.8 L482.5,184.9 L482.0,186.0 L481.5,186.6 L481.0,187.2 L480.5,187.8 L480.0,188.4 L479.5,189.0 L479.0,188.0 L478.5,187.0 L478.0,186.0 L477.5,185.7 L477.0,185.5 L476.5,185.2 L476.0,184.8 L475.5,184.3 L475.0,183.8 L474.5,183.3 L474.0,182.8 L473.5,182.3 L473.0,181.6 L472.5,180.9 L472.0,180.3 L471.5,179.6 L471.0,178.9 L470.5,178.3 L470.0,177.6 L469.5,176.9 L469.0,176.3 L468.5,175.6 L468.0,174.9 L467.5,174.3 L467.0,173.6 L466.5,172.9 L466.0,172.3 L465.5,171.8 L465.0,171.3 L464.5,170.8 L464.0,170.3 L463.5,170.7 L463.0,171.0 L462.5,171.3 L462.0,171.7 L461.5,172.3 L461.0,173.0 L460.5,173.7 L460.0,174.3 L459.5,175.0 L459.0,175.8 L458.5,176.7 L458.0,177.5 L457.5,178.3 L457.0,179.2 L456.5,180.0 L456.0,180.8 L455.5,181.7 L455.0,182.5 L454.5,183.3 L454.0,183.7 L453.5,184.1 L453.0,184.5 L452.5,184.9 L452.0,184.3 L451.5,183.3 L451.0,182.2 L450.5,181.2 L450.0,180.2 L449.5,179.2 L449.0,178.2 L448.5,177.1 L448.0,175.8 L447.5,174.6 L447.0,173.3 L446.5,172.4 L446.0,171.4 L445.5,170.4 L445.0,170.5 L444.5,171.2 L444.0,172.0 L443.5,172.7 L443.0,173.5 L442.5,174.2 L442.0,175.0 L441.5,175.7 L441.0,176.5 L440.5,177.2 L440.0,178.0 L439.5,178.2 L439.0,178.3 L438.5,178.4 L438.0,178.6 L437.5,178.8 L437.0,178.9 L436.5,179.1 L436.0,179.2 L435.5,179.3 L435.0,179.5 L434.5,179.7 L434.0,179.8 L433.5,179.9 L433.0,180.1 L432.5,180.2 L432.0,180.4 L431.5,180.6 L431.0,180.7 L430.5,180.8 L430.0,181.0 L429.5,180.9 L429.0,180.9 L428.5,180.8 L428.0,180.8 L427.5,180.8 L427.0,180.7 L426.5,180.7 L426.0,180.6 L425.5,180.6 L425.0,180.5 L424.5,180.4 L424.0,180.4 L423.5,180.3 L423.0,180.3 L422.5,180.2 L422.0,180.2 L421.5,180.2 L421.0,180.1 L420.5,180.1 L420.0,180.0 L419.5,180.1 L419.0,180.1 L418.5,180.2 L418.0,180.2 L417.5,180.3 L417.0,180.3 L416.5,180.4 L416.0,180.4 L415.5,180.5 L415.0,180.6 L414.5,180.6 L414.0,180.7 L413.5,180.7 L413.0,180.8 L412.5,180.8 L412.0,180.9 L411.5,180.9 L411.0,181.0 L410.5,180.7 L410.0,180.4 L409.5,180.1 L409.0,179.8 L408.5,179.4 L408.0,179.1 L407.5,178.8 L407.0,178.5 L406.5,178.2 L406.0,177.9 L405.5,177.6 L405.0,177.2 L404.5,176.9 L404.0,176.6 L403.5,176.3 L403.0,176.0 L402.5,175.5 L402.0,174.9 L401.5,174.4 L401.0,173.8 L400.5,173.3 L400.0,172.8 L399.5,172.2 L399.0,171.7 L398.5,171.1 L398.0,170.6 L397.5,170.0 L397.0,169.5 L396.5,169.1 L396.0,168.6 L395.5,168.2 L395.0,167.5 L394.5,166.8 L394.0,166.0 L393.5,165.3 L393.0,164.8 L392.5,164.3 L392.0,163.8 L391.5,163.3 L391.0,162.8 L390.5,162.3 L390.0,161.8 L389.5,161.3 L389.0,160.8 L388.5,160.3 L388.0,159.8 L387.5,159.3 L387.0,158.8 L386.5,158.3 L386.0,157.5 L385.5,156.0 L385.0,154.5 L384.5,153.0 L384.0,154.2 L383.5,155.5 L383.0,156.7 L382.5,157.7 L382.0,158.4 L381.5,159.2 L381.0,159.6 L380.5,159.3 L380.0,159.1 L379.5,158.8 L379.0,157.8 L378.5,156.8 L378.0,155.8 L377.5,156.3 L377.0,157.4 L376.5,158.6 L376.0,159.8 L375.5,160.9 L375.0,154.2 L374.5,138.9 L374.0,120.5Z" fill="rgb(201,235,251)" fill-opacity="0.5" stroke="none"/>
<path d="M374.0,120.5 L374.5,112.0 L375.0,74.5 L375.5,47.8 L376.0,39.6 L376.5,40.3 L377.0,41.0 L377.5,41.7 L378.0,42.5 L378.5,43.2 L379.0,43.7 L379.5,44.0 L380.0,44.4 L380.5,44.7 L381.0,45.1 L381.5,45.5 L382.0,46.0 L382.5,46.5 L383.0,47.0 L383.5,47.5 L384.0,48.2 L384.5,49.0 L385.0,49.8 L385.5,50.7 L386.0,51.5 L386.5,52.4 L387.0,53.4 L387.5,54.4 L388.0,55.4 L388.5,56.4 L389.0,56.9 L389.5,57.1 L390.0,57.2 L390.5,57.4 L391.0,57.8 L391.5,58.4 L392.0,59.1 L392.5,59.8 L393.0,60.5 L393.5,61.3 L394.0,62.2 L394.5,63.0 L395.0,63.8 L395.5,64.6 L396.0,65.3 L396.5,65.9 L397.0,66.6 L397.5,67.3 L398.0,68.2 L398.5,69.4 L399.0,70.6 L399.5,71.8 L400.0,72.6 L400.5,73.5 L401.0,74.3 L401.5,75.2 L402.0,76.0 L402.5,76.7 L403.0,77.3 L403.5,78.0 L404.0,78.6 L404.5,79.3 L405.0,79.8 L405.5,80.3 L406.0,80.8 L406.5,81.3 L407.0,81.8 L407.5,82.6 L408.0,83.3 L408.5,84.1 L409.0,84.8 L409.5,85.6 L410.0,86.3 L410.5,87.0 L411.0,87.7 L411.5,88.3 L412.0,88.9 L412.5,89.5 L413.0,90.1 L413.5,90.8 L414.0,91.3 L414.5,91.8 L415.0,92.3 L415.5,92.8 L416.0,93.3 L416.5,93.3 L417.0,93.0 L417.5,92.6 L418.0,92.3 L418.5,91.9 L419.0,91.5 L419.5,91.0 L420.0,90.5 L420.5,90.0 L421.0,89.5 L421.5,89.0 L422.0,88.5 L422.5,88.0 L423.0,87.5 L423.5,87.0 L424.0,86.7 L424.5,86.5 L425.0,86.4 L425.5,86.2 L426.0,86.1 L426.5,86.3 L427.0,86.8 L427.5,87.3 L428.0,87.8 L428.5,88.3 L429.0,88.3 L429.5,88.1 L430.0,87.8 L430.5,87.6 L431.0,87.3 L431.5,87.1 L432.0,86.8 L432.5,86.1 L433.0,85.5 L433.5,84.8 L434.0,84.2 L434.5,83.5 L435.0,82.5 L435.5,81.6 L436.0,80.6 L436.5,81.0 L437.0,82.2 L437.5,83.5 L438.0,84.9 L438.5,86.4 L439.0,87.8 L439.5,89.3 L440.0,90.5 L440.5,91.8 L441.0,93.0 L441.5,94.8 L442.0,96.9 L442.5,99.0 L443.0,100.1 L443.5,101.3 L444.0,102.4 L444.5,103.5 L445.0,104.7 L445.5,105.8 L446.0,107.0 L446.5,108.1 L447.0,108.8 L447.5,108.0 L448.0,107.1 L448.5,106.3 L449.0,105.4 L449.5,104.6 L450.0,103.7 L450.5,102.9 L451.0,102.2 L451.5,101.6 L452.0,101.0 L452.5,100.4 L453.0,99.8 L453.5,99.2 L454.0,99.6 L454.5,100.6 L455.0,101.6 L455.5,102.6 L456.0,103.5 L456.5,104.5 L457.0,105.5 L457.5,106.5 L458.0,107.7 L458.5,108.9 L459.0,110.0 L459.5,111.2 L460.0,112.4 L460.5,113.6 L461.0,114.7 L461.5,114.7 L462.0,113.9 L462.5,113.1 L463.0,112.3 L463.5,111.4 L464.0,110.6 L464.5,109.8 L465.0,109.0 L465.5,108.6 L466.0,108.2 L466.5,107.7 L467.0,107.3 L467.5,106.9 L468.0,106.5 L468.5,106.1 L469.0,106.3 L469.5,107.1 L470.0,107.8 L470.5,108.6 L471.0,109.3 L471.5,110.0 L472.0,110.8 L472.5,111.5 L473.0,112.1 L473.5,112.8 L474.0,113.4 L474.5,114.0 L475.0,114.6 L475.5,115.3 L476.0,115.9 L476.5,116.5 L477.0,116.9 L477.5,116.4 L478.0,115.9 L478.5,115.4 L479.0,114.9 L479.5,114.4 L480.0,114.0 L480.5,113.5 L481.0,113.0 L481.5,112.5 L482.0,112.0 L482.5,111.5 L483.0,110.7 L483.5,109.9 L484.0,109.1 L484.5,108.4 L485.0,107.6 L485.5,106.8 L486.0,106.0 L486.5,105.2 L487.0,104.4 L487.5,103.6 L488.0,102.9 L488.5,103.5 L489.0,104.5 L489.5,105.5 L490.0,106.6 L490.5,107.6 L491.0,108.6 L491.5,109.4 L492.0,110.1 L492.5,110.8 L493.0,111.5 L493.5,112.2 L494.0,112.9 L494.5,113.3 L495.0,112.9 L495.5,112.4 L496.0,112.0 L496.5,111.6 L497.0,111.2 L497.5,110.7 L498.0,110.3 L498.5,109.9 L499.0,109.5 L499.5,109.1 L500.0,108.7 L500.5,108.3 L501.0,107.9 L501.5,108.0 L502.0,108.4 L502.5,108.8 L503.0,109.2 L503.5,109.6 L504.0,110.1 L504.5,110.5 L505.0,110.9 L505.5,111.0 L506.0,111.1 L506.5,111.2 L507.0,111.3 L507.5,111.4 L508.0,111.5 L508.5,110.4 L509.0,108.8 L509.5,107.2 L510.0,105.5 L510.5,103.9 L511.0,102.3 L511.5,100.7 L512.0,99.7 L512.5,98.7 L513.0,97.8 L513.5,96.8 L514.0,97.5 L514.5,98.9 L515.0,100.4 L515.5,101.8 L516.0,103.2 L516.5,104.6 L517.0,105.9 L517.5,107.2 L518.0,108.6 L518.5,109.7 L519.0,110.7 L519.5,111.7 L520.0,112.7 L520.5,113.7 L521.0,114.3 L521.5,114.8 L522.0,115.3 L522.5,115.8 L523.0,116.3 L523.5,116.8 L524.0,117.3 L524.5,116.7 L525.0,116.1 L525.5,115.5 L526.0,114.8 L526.5,114.2 L527.0,113.6 L527.5,113.3 L528.0,113.6 L528.5,113.9 L529.0,114.3 L529.5,114.6 L530.0,114.8 L530.5,114.8 L531.0,114.8 L531.5,114.8 L532.0,114.8 L532.5,114.8 L533.0,114.8 L533.5,114.2 L534.0,113.4 L534.5,112.5 L535.0,111.6 L535.5,110.7 L536.0,109.9 L536.5,109.0 L537.0,108.2 L537.5,107.3 L538.0,106.5 L538.5,105.7 L539.0,104.8 L539.5,105.7 L540.0,106.5 L540.5,107.3 L541.0,108.2 L541.5,109.0 L542.0,109.4 L542.5,109.7 L543.0,110.1 L543.5,110.5 L544.0,110.9 L544.5,111.2 L545.0,111.6 L545.5,111.8 L546.0,112.1 L546.5,112.3 L547.0,112.6 L547.5,112.8 L548.0,113.1 L548.5,113.0 L549.0,112.7 L549.5,112.5 L550.0,112.2 L550.5,112.0 L551.0,111.8 L551.5,111.5 L552.0,112.0 L552.5,112.5 L553.0,113.0 L553.5,113.5 L554.0,114.0 L554.5,114.5 L555.0,115.0 L555.5,115.5 L556.0,116.0 L556.5,116.5 L557.0,115.9 L557.5,115.3 L558.0,114.6 L558.5,114.0 L559.0,113.4 L559.5,112.8 L560.0,111.9 L560.5,110.6 L561.0,109.2 L561.5,107.9 L562.0,106.6 L562.5,105.1 L563.0,103.4 L563.5,101.6 L564.0,99.9 L564.5,101.4 L565.0,102.9 L565.5,104.4 L566.0,105.8 L566.5,107.2 L567.0,108.5 L567.5,109.8 L568.0,110.8 L568.5,111.2 L569.0,111.8 L569.5,112.2 L570.0,112.8 L570.5,113.2 L571.0,113.5 L571.5,113.8 L572.0,114.0 L572.5,114.3 L573.0,114.7 L573.5,114.9 L574.0,115.1 L574.5,115.3 L575.0,115.5 L575.5,115.7 L576.0,115.9 L576.5,116.1 L577.0,115.9 L577.5,115.6 L578.0,115.4 L578.5,115.1 L579.0,114.9 L579.5,114.2 L580.0,113.6 L580.5,113.0 L581.0,112.4 L581.5,111.8 L582.0,111.2 L582.5,110.8 L583.0,110.2 L583.5,109.8 L584.0,109.2 L584.5,109.0 L585.0,108.8 L585.5,108.5 L586.0,108.2 L586.5,108.0 L587.0,108.4 L587.5,108.8 L588.0,109.1 L588.5,109.5 L589.0,109.9 L589.5,110.5 L590.0,111.2 L590.5,111.9 L591.0,112.6 L591.5,113.4 L592.0,114.2 L592.5,115.1 L593.0,115.5 L593.5,115.6 L594.0,115.7 L594.5,115.8 L595.0,115.9 L595.5,116.0 L596.0,116.0 L596.5,116.1 L597.0,115.9 L597.5,115.6 L598.0,115.4 L598.5,115.1 L599.0,114.9 L599.5,114.5 L600.0,114.1 L600.5,113.8 L601.0,113.4 L601.5,113.0 L602.0,113.4 L602.5,113.8 L603.0,114.1 L603.5,114.5 L604.0,114.9 L604.5,114.5 L605.0,114.1 L605.5,113.8 L606.0,113.4 L606.5,113.0 L607.0,112.2 L607.5,111.3 L608.0,110.5 L608.5,109.8 L609.0,109.2 L609.5,108.8 L610.0,108.2 L610.5,108.3 L611.0,109.0 L611.5,109.7 L612.0,110.3 L612.5,111.0 L613.0,111.7 L613.5,112.3 L614.0,113.0 L614.5,113.4 L615.0,113.8 L615.5,114.1 L616.0,114.5 L616.5,114.9 L617.0,115.1 L617.5,115.4 L618.0,115.6 L618.5,115.9 L619.0,116.1 L619.5,116.0 L620.0,116.0 L620.5,115.9 L621.0,115.8 L621.5,115.7 L622.0,115.6 L622.5,115.5 L623.0,115.5 L623.5,115.4 L624.0,115.3 L624.5,115.2 L625.0,115.1 L625.5,115.0 L626.0,115.0 L626.5,114.9 L627.0,114.6 L627.5,114.4 L628.0,114.1 L628.5,113.9 L629.0,113.6 L629.5,113.1 L630.0,112.6 L630.5,112.1 L631.0,111.6 L631.5,111.1 L632.0,110.5 L632.5,109.9 L633.0,109.2 L633.5,108.6 L634.0,108.0 L634.5,107.5 L635.0,107.0 L635.5,106.5 L636.0,106.0 L636.5,105.5 L637.0,105.4 L637.5,105.2 L638.0,105.1 L638.5,105.0 L639.0,104.9 L639.5,105.2 L640.0,105.6 L640.5,105.9 L641.0,106.2 L641.5,106.6 L642.0,106.9 L642.0,169.2 L641.5,168.8 L641.0,168.4 L640.5,168.1 L640.0,167.7 L639.5,167.3 L639.0,166.8 L638.5,165.9 L638.0,164.8 L637.5,163.5 L637.0,162.2 L636.5,161.3 L636.0,160.4 L635.5,159.5 L635.0,159.2 L634.5,159.5 L634.0,159.8 L633.5,159.2 L633.0,157.8 L632.5,156.5 L632.0,155.0 L631.5,153.4 L631.0,151.9 L630.5,150.4 L630.0,148.4 L629.5,145.9 L629.0,143.4 L628.5,142.1 L628.0,140.9 L627.5,140.8 L627.0,141.8 L626.5,142.8 L626.0,143.7 L625.5,144.4 L625.0,145.0 L624.5,145.3 L624.0,144.5 L623.5,143.6 L623.0,142.8 L622.5,141.9 L622.0,141.0 L621.5,140.0 L621.0,140.4 L620.5,140.7 L620.0,141.0 L619.5,141.9 L619.0,142.7 L618.5,143.9 L618.0,144.8 L617.5,145.6 L617.0,146.3 L616.5,147.1 L616.0,147.4 L615.5,147.6 L615.0,147.9 L614.5,148.2 L614.0,149.1 L613.5,150.2 L613.0,151.3 L612.5,152.4 L612.0,153.4 L611.5,154.4 L611.0,155.4 L610.5,156.6 L610.0,157.3 L609.5,157.4 L609.0,157.3 L608.5,157.0 L608.0,156.4 L607.5,154.9 L607.0,152.6 L606.5,150.2 L606.0,147.4 L605.5,144.5 L605.0,142.1 L604.5,140.2 L604.0,140.0 L603.5,139.2 L603.0,138.4 L602.5,137.7 L602.0,137.2 L601.5,136.6 L601.0,136.1 L600.5,135.8 L600.0,135.6 L599.5,135.3 L599.0,135.1 L598.5,134.8 L598.0,134.8 L597.5,134.9 L597.0,134.9 L596.5,135.0 L596.0,135.0 L595.5,135.3 L595.0,135.6 L594.5,135.9 L594.0,136.2 L593.5,136.5 L593.0,137.0 L592.5,137.5 L592.0,138.0 L591.5,138.5 L591.0,139.0 L590.5,139.6 L590.0,140.3 L589.5,141.0 L589.0,162.1 L588.5,164.5 L588.0,165.8 L587.5,166.7 L587.0,167.6 L586.5,168.5 L586.0,168.4 L585.5,168.3 L585.0,168.1 L584.5,168.1 L584.0,168.2 L583.5,168.1 L583.0,168.0 L582.5,167.0 L582.0,166.0 L581.5,164.6 L581.0,162.8 L580.5,160.9 L580.0,159.5 L579.5,158.5 L579.0,157.5 L578.5,157.0 L578.0,155.9 L577.5,154.6 L577.0,153.4 L576.5,152.1 L576.0,151.3 L575.5,150.5 L575.0,149.7 L574.5,148.8 L574.0,147.7 L573.5,146.6 L573.0,145.5 L572.5,144.5 L572.0,143.4 L571.5,142.4 L571.0,141.4 L570.5,140.2 L570.0,139.1 L569.5,138.0 L569.0,138.2 L568.5,139.5 L568.0,140.8 L567.5,141.3 L567.0,141.0 L566.5,140.7 L566.0,140.3 L565.5,141.1 L565.0,142.3 L564.5,143.5 L564.0,144.6 L563.5,144.4 L563.0,144.3 L562.5,144.4 L562.0,145.2 L561.5,146.2 L561.0,147.2 L560.5,148.3 L560.0,149.4 L559.5,151.1 L559.0,153.0 L558.5,154.5 L558.0,155.2 L557.5,156.0 L557.0,156.7 L556.5,157.5 L556.0,158.7 L555.5,159.8 L555.0,161.0 L554.5,162.2 L554.0,163.3 L553.5,164.3 L553.0,165.3 L552.5,166.2 L552.0,167.2 L551.5,168.2 L551.0,167.6 L550.5,167.1 L550.0,166.5 L549.5,165.3 L549.0,163.7 L548.5,162.2 L548.0,160.8 L547.5,159.6 L547.0,158.2 L546.5,156.8 L546.0,155.4 L545.5,153.9 L545.0,152.5 L544.5,151.2 L544.0,149.9 L543.5,148.7 L543.0,147.8 L542.5,146.9 L542.0,145.9 L541.5,145.0 L541.0,145.3 L540.5,145.6 L540.0,145.9 L539.5,146.2 L539.0,146.5 L538.5,145.8 L538.0,145.1 L537.5,144.4 L537.0,143.7 L536.5,143.0 L536.0,142.7 L535.5,142.3 L535.0,142.0 L534.5,141.6 L534.0,141.3 L533.5,140.8 L533.0,140.5 L532.5,140.8 L532.0,141.2 L531.5,141.5 L531.0,141.3 L530.5,141.1 L530.0,140.9 L529.5,140.9 L529.0,141.1 L528.5,141.8 L528.0,142.5 L527.5,143.3 L527.0,143.3 L526.5,143.1 L526.0,143.3 L525.5,143.5 L525.0,143.6 L524.5,143.8 L524.0,144.0 L523.5,144.8 L523.0,145.7 L522.5,146.5 L522.0,147.3 L521.5,148.2 L521.0,148.0 L520.5,148.0 L520.0,148.3 L519.5,148.7 L519.0,149.0 L518.5,149.0 L518.0,149.1 L517.5,149.4 L517.0,149.8 L516.5,150.1 L516.0,150.6 L515.5,151.2 L515.0,151.9 L514.5,152.5 L514.0,153.2 L513.5,153.2 L513.0,151.6 L512.5,149.9 L512.0,148.3 L511.5,146.7 L511.0,145.4 L510.5,144.2 L510.0,143.0 L509.5,142.1 L509.0,141.3 L508.5,140.6 L508.0,140.4 L507.5,141.3 L507.0,142.0 L506.5,142.6 L506.0,143.2 L505.5,143.7 L505.0,144.3 L504.5,144.8 L504.0,145.1 L503.5,145.3 L503.0,145.6 L502.5,145.9 L502.0,146.1 L501.5,146.2 L501.0,145.9 L500.5,145.2 L500.0,144.4 L499.5,143.7 L499.0,143.0 L498.5,142.2 L498.0,141.5 L497.5,140.7 L497.0,140.3 L496.5,140.0 L496.0,139.7 L495.5,139.4 L495.0,139.1 L494.5,138.2 L494.0,137.8 L493.5,137.5 L493.0,136.7 L492.5,135.9 L492.0,135.2 L491.5,135.2 L491.0,135.5 L490.5,135.8 L490.0,136.1 L489.5,136.4 L489.0,136.8 L488.5,137.1 L488.0,137.4 L487.5,137.7 L487.0,138.1 L486.5,138.4 L486.0,138.8 L485.5,139.2 L485.0,139.6 L484.5,140.0 L484.0,140.4 L483.5,140.9 L483.0,141.3 L482.5,141.7 L482.0,141.9 L481.5,142.0 L481.0,142.2 L480.5,142.4 L480.0,142.6 L479.5,142.7 L479.0,142.9 L478.5,142.4 L478.0,141.0 L477.5,137.1 L477.0,136.4 L476.5,136.6 L476.0,137.1 L475.5,137.5 L475.0,138.5 L474.5,139.8 L474.0,141.1 L473.5,142.4 L473.0,142.9 L472.5,143.0 L472.0,143.2 L471.5,143.1 L471.0,142.3 L470.5,141.5 L470.0,140.7 L469.5,139.9 L469.0,138.7 L468.5,136.9 L468.0,134.5 L467.5,133.0 L467.0,131.9 L466.5,130.8 L466.0,129.7 L465.5,128.6 L465.0,127.6 L464.5,126.1 L464.0,124.6 L463.5,123.1 L463.0,121.6 L462.5,120.8 L462.0,120.3 L461.5,119.8 L461.0,120.2 L460.5,121.7 L460.0,122.7 L459.5,123.6 L459.0,124.4 L458.5,125.3 L458.0,126.1 L457.5,127.4 L457.0,128.7 L456.5,130.0 L456.0,131.3 L455.5,132.7 L455.0,134.4 L454.5,136.4 L454.0,138.4 L453.5,139.8 L453.0,140.2 L452.5,140.3 L452.0,140.2 L451.5,140.1 L451.0,140.1 L450.5,139.5 L450.0,137.6 L449.5,135.8 L449.0,133.9 L448.5,132.2 L448.0,130.7 L447.5,129.1 L447.0,127.6 L446.5,127.7 L446.0,128.3 L445.5,129.1 L445.0,129.9 L444.5,130.7 L444.0,131.5 L443.5,132.2 L443.0,132.6 L442.5,133.1 L442.0,134.6 L441.5,136.0 L441.0,137.0 L440.5,137.2 L440.0,137.5 L439.5,137.7 L439.0,138.2 L438.5,138.7 L438.0,139.4 L437.5,139.9 L437.0,140.4 L436.5,140.9 L436.0,141.0 L435.5,140.8 L435.0,140.7 L434.5,140.5 L434.0,140.6 L433.5,140.8 L433.0,141.2 L432.5,141.5 L432.0,141.9 L431.5,142.6 L431.0,142.9 L430.5,142.1 L430.0,141.3 L429.5,140.6 L429.0,139.3 L428.5,138.4 L428.0,137.9 L427.5,137.4 L427.0,136.9 L426.5,137.4 L426.0,137.6 L425.5,137.4 L425.0,137.3 L424.5,137.1 L424.0,136.3 L423.5,135.3 L423.0,134.2 L422.5,133.0 L422.0,131.8 L421.5,131.1 L421.0,130.4 L420.5,129.7 L420.0,129.0 L419.5,128.3 L419.0,128.6 L418.5,129.0 L418.0,129.5 L417.5,130.2 L417.0,131.0 L416.5,131.8 L416.0,132.9 L415.5,133.9 L415.0,133.6 L414.5,133.3 L414.0,132.9 L413.5,132.6 L413.0,132.2 L412.5,131.8 L412.0,131.4 L411.5,131.1 L411.0,130.8 L410.5,130.7 L410.0,130.8 L409.5,130.9 L409.0,130.9 L408.5,131.0 L408.0,131.1 L407.5,131.2 L407.0,131.3 L406.5,131.1 L406.0,131.1 L405.5,131.3 L405.0,131.4 L404.5,131.6 L404.0,131.9 L403.5,132.1 L403.0,132.1 L402.5,132.1 L402.0,132.1 L401.5,132.3 L401.0,132.2 L400.5,131.7 L400.0,131.2 L399.5,130.8 L399.0,130.6 L398.5,130.4 L398.0,130.2 L397.5,129.5 L397.0,128.7 L396.5,128.9 L396.0,129.1 L395.5,129.3 L395.0,130.1 L394.5,131.2 L394.0,132.4 L393.5,133.5 L393.0,134.7 L392.5,136.2 L392.0,137.9 L391.5,139.6 L391.0,140.2 L390.5,138.6 L390.0,136.8 L389.5,134.9 L389.0,133.6 L388.5,132.6 L388.0,132.1 L387.5,131.3 L387.0,130.3 L386.5,129.3 L386.0,128.2 L385.5,127.0 L385.0,125.8 L384.5,124.7 L384.0,123.5 L383.5,122.2 L383.0,120.7 L382.5,119.8 L382.0,119.3 L381.5,118.8 L381.0,118.3 L380.5,117.6 L380.0,116.9 L379.5,116.3 L379.0,117.6 L378.5,119.1 L378.0,120.9 L377.5,122.8 L377.0,124.8 L376.5,126.7 L376.0,130.4 L375.5,132.2 L375.0,129.0 L374.5,124.0 L374.0,120.5Z" fill="rgb(171,255,208)" fill-opacity="0.6" stroke="none"/>
<path d="M374.0,120.5 L374.5,112.0 L375.0,73.3 L375.5,31.9 L376.0,17.0 L376.5,17.2 L377.0,24.2 L377.5,31.6 L378.0,33.2 L378.5,33.7 L379.0,32.0 L379.5,30.2 L380.0,31.9 L380.5,33.7 L381.0,35.4 L381.5,36.8 L382.0,38.1 L382.5,39.3 L383.0,40.4 L383.5,41.2 L384.0,41.9 L384.5,42.7 L385.0,42.9 L385.5,43.2 L386.0,43.4 L386.5,43.7 L387.0,44.1 L387.5,44.4 L388.0,44.7 L388.5,45.1 L389.0,44.3 L389.5,43.1 L390.0,41.8 L390.5,40.6 L391.0,39.3 L391.5,38.1 L392.0,36.8 L392.5,36.1 L393.0,35.3 L393.5,34.6 L394.0,34.1 L394.5,33.8 L395.0,33.4 L395.5,33.1 L396.0,32.8 L396.5,32.1 L397.0,31.3 L397.5,30.4 L398.0,29.6 L398.5,30.6 L399.0,32.5 L399.5,34.3 L400.0,36.8 L400.5,39.3 L401.0,41.8 L401.5,44.0 L402.0,46.0 L402.5,48.0 L403.0,49.9 L403.5,51.7 L404.0,53.4 L404.5,55.2 L405.0,56.2 L405.5,57.2 L406.0,58.2 L406.5,58.8 L407.0,59.3 L407.5,59.8 L408.0,60.4 L408.5,61.1 L409.0,61.7 L409.5,62.4 L410.0,63.1 L410.5,63.7 L411.0,64.4 L411.5,65.1 L412.0,65.7 L412.5,66.4 L413.0,66.9 L413.5,67.3 L414.0,67.6 L414.5,67.9 L415.0,68.3 L415.5,68.6 L416.0,68.7 L416.5,68.9 L417.0,69.1 L417.5,69.2 L418.0,69.5 L418.5,70.0 L419.0,70.5 L419.5,71.0 L420.0,71.5 L420.5,72.0 L421.0,72.4 L421.5,72.8 L422.0,73.2 L422.5,73.3 L423.0,72.7 L423.5,72.2 L424.0,71.6 L424.5,71.0 L425.0,69.8 L425.5,68.5 L426.0,67.3 L426.5,65.7 L427.0,63.9 L427.5,62.2 L428.0,60.4 L428.5,58.6 L429.0,57.5 L429.5,56.8 L430.0,56.0 L430.5,56.6 L431.0,57.2 L431.5,57.9 L432.0,58.5 L432.5,58.5 L433.0,58.5 L433.5,58.5 L434.0,58.5 L434.5,58.5 L435.0,58.7 L435.5,58.8 L436.0,59.0 L436.5,59.2 L437.0,59.3 L437.5,58.8 L438.0,58.3 L438.5,57.8 L439.0,57.5 L439.5,57.2 L440.0,57.0 L440.5,56.7 L441.0,56.1 L441.5,55.6 L442.0,55.0 L442.5,54.9 L443.0,55.6 L443.5,56.3 L444.0,57.0 L444.5,57.7 L445.0,57.7 L445.5,57.7 L446.0,57.9 L446.5,58.1 L447.0,58.2 L447.5,58.4 L448.0,58.6 L448.5,58.9 L449.0,59.3 L449.5,59.6 L450.0,59.9 L450.5,60.3 L451.0,60.8 L451.5,61.3 L452.0,61.8 L452.5,61.6 L453.0,61.3 L453.5,61.1 L454.0,61.1 L454.5,61.3 L455.0,61.4 L455.5,61.6 L456.0,61.8 L456.5,61.7 L457.0,61.6 L457.5,61.4 L458.0,61.2 L458.5,61.1 L459.0,61.3 L459.5,61.8 L460.0,62.3 L460.5,62.8 L461.0,63.3 L461.5,63.8 L462.0,64.3 L462.5,64.8 L463.0,65.3 L463.5,65.8 L464.0,66.1 L464.5,66.5 L465.0,66.8 L465.5,66.0 L466.0,65.2 L466.5,64.3 L467.0,63.5 L467.5,62.8 L468.0,62.0 L468.5,61.3 L469.0,60.5 L469.5,59.8 L470.0,59.0 L470.5,58.2 L471.0,57.5 L471.5,56.7 L472.0,55.9 L472.5,55.2 L473.0,56.0 L473.5,56.8 L474.0,57.7 L474.5,57.8 L475.0,58.0 L475.5,58.9 L476.0,59.9 L476.5,60.3 L477.0,60.5 L477.5,60.8 L478.0,61.0 L478.5,64.7 L479.0,68.3 L479.5,67.7 L480.0,67.0 L480.5,66.3 L481.0,65.7 L481.5,65.0 L482.0,65.3 L482.5,65.7 L483.0,66.0 L483.5,66.3 L484.0,66.7 L484.5,66.3 L485.0,66.0 L485.5,65.7 L486.0,65.3 L486.5,65.0 L487.0,64.8 L487.5,64.7 L488.0,64.5 L488.5,64.3 L489.0,64.2 L489.5,64.3 L490.0,64.5 L490.5,64.7 L491.0,64.8 L491.5,65.0 L492.0,64.7 L492.5,64.3 L493.0,64.0 L493.5,63.7 L494.0,63.3 L494.5,62.8 L495.0,62.3 L495.5,61.8 L496.0,61.3 L496.5,60.8 L497.0,60.7 L497.5,60.5 L498.0,60.4 L498.5,60.8 L499.0,61.5 L499.5,62.2 L500.0,62.9 L500.5,63.6 L501.0,64.4 L501.5,65.3 L502.0,66.1 L502.5,66.8 L503.0,67.3 L503.5,67.8 L504.0,68.3 L504.5,68.8 L505.0,69.3 L505.5,69.8 L506.0,70.3 L506.5,70.8 L507.0,71.3 L507.5,71.8 L508.0,72.3 L508.5,72.8 L509.0,73.3 L509.5,73.8 L510.0,74.2 L510.5,74.4 L511.0,74.6 L511.5,74.7 L512.0,74.9 L512.5,74.7 L513.0,73.6 L513.5,72.6 L514.0,71.5 L514.5,70.4 L515.0,69.3 L515.5,68.1 L516.0,67.0 L516.5,65.8 L517.0,65.3 L517.5,64.8 L518.0,64.3 L518.5,63.8 L519.0,63.3 L519.5,63.1 L520.0,62.8 L520.5,62.5 L521.0,62.2 L521.5,61.9 L522.0,61.7 L522.5,62.0 L523.0,62.4 L523.5,62.7 L524.0,63.1 L524.5,63.5 L525.0,64.1 L525.5,64.7 L526.0,65.3 L526.5,65.8 L527.0,65.8 L527.5,65.8 L528.0,65.8 L528.5,65.8 L529.0,65.8 L529.5,66.5 L530.0,67.2 L530.5,67.8 L531.0,68.5 L531.5,69.2 L532.0,70.1 L532.5,71.1 L533.0,72.1 L533.5,73.0 L534.0,74.2 L534.5,75.4 L535.0,76.7 L535.5,77.9 L536.0,78.5 L536.5,78.8 L537.0,79.0 L537.5,79.0 L538.0,78.3 L538.5,77.7 L539.0,77.1 L539.5,76.5 L540.0,75.9 L540.5,75.3 L541.0,74.7 L541.5,74.2 L542.0,73.7 L542.5,73.2 L543.0,72.7 L543.5,72.2 L544.0,71.7 L544.5,71.5 L545.0,71.3 L545.5,71.2 L546.0,71.0 L546.5,70.8 L547.0,70.7 L547.5,70.5 L548.0,70.3 L548.5,70.2 L549.0,70.0 L549.5,69.7 L550.0,69.3 L550.5,69.0 L551.0,68.7 L551.5,68.3 L552.0,67.8 L552.5,67.3 L553.0,66.8 L553.5,67.5 L554.0,68.8 L554.5,70.0 L555.0,71.2 L555.5,72.1 L556.0,73.1 L556.5,74.0 L557.0,75.0 L557.5,76.0 L558.0,77.1 L558.5,78.1 L559.0,79.2 L559.5,79.8 L560.0,80.4 L560.5,81.0 L561.0,81.7 L561.5,81.5 L562.0,81.3 L562.5,81.1 L563.0,80.9 L563.5,80.0 L564.0,78.8 L564.5,78.5 L565.0,78.3 L565.5,78.1 L566.0,79.3 L566.5,80.4 L567.0,81.6 L567.5,81.0 L568.0,79.8 L568.5,78.7 L569.0,77.5 L569.5,76.7 L570.0,75.8 L570.5,75.0 L571.0,74.2 L571.5,73.5 L572.0,72.9 L572.5,72.2 L573.0,71.5 L573.5,70.6 L574.0,69.8 L574.5,69.0 L575.0,68.0 L575.5,67.0 L576.0,66.0 L576.5,65.0 L577.0,64.2 L577.5,63.5 L578.0,63.8 L578.5,65.0 L579.0,66.2 L579.5,67.6 L580.0,69.2 L580.5,70.7 L581.0,72.1 L581.5,72.9 L582.0,73.8 L582.5,74.6 L583.0,75.2 L583.5,75.8 L584.0,76.2 L584.5,75.4 L585.0,74.6 L585.5,73.8 L586.0,73.3 L586.5,74.0 L587.0,74.6 L587.5,75.3 L588.0,76.0 L588.5,76.9 L589.0,77.7 L589.5,78.5 L590.0,79.9 L590.5,81.4 L591.0,82.8 L591.5,84.1 L592.0,85.3 L592.5,85.8 L593.0,86.1 L593.5,86.4 L594.0,86.4 L594.5,86.2 L595.0,86.0 L595.5,85.8 L596.0,85.4 L596.5,84.7 L597.0,83.9 L597.5,83.1 L598.0,81.4 L598.5,79.6 L599.0,77.9 L599.5,76.1 L600.0,74.4 L600.5,74.9 L601.0,75.4 L601.5,75.4 L602.0,75.0 L602.5,74.6 L603.0,74.3 L603.5,74.1 L604.0,74.0 L604.5,73.8 L605.0,73.4 L605.5,72.9 L606.0,72.4 L606.5,71.9 L607.0,70.6 L607.5,69.4 L608.0,68.1 L608.5,66.9 L609.0,65.6 L609.5,64.6 L610.0,63.9 L610.5,64.2 L611.0,65.5 L611.5,66.9 L612.0,68.5 L612.5,70.2 L613.0,71.9 L613.5,73.4 L614.0,75.0 L614.5,76.5 L615.0,77.7 L615.5,78.9 L616.0,80.0 L616.5,81.0 L617.0,81.9 L617.5,82.7 L618.0,83.4 L618.5,84.1 L619.0,84.7 L619.5,84.4 L620.0,83.1 L620.5,81.9 L621.0,80.0 L621.5,78.1 L622.0,77.5 L622.5,76.9 L623.0,76.2 L623.5,76.4 L624.0,76.6 L624.5,76.8 L625.0,77.3 L625.5,77.9 L626.0,78.5 L626.5,78.5 L627.0,78.1 L627.5,77.7 L628.0,77.0 L628.5,75.9 L629.0,74.9 L629.5,73.8 L630.0,72.6 L630.5,71.5 L631.0,70.3 L631.5,69.2 L632.0,68.0 L632.5,66.9 L633.0,66.0 L633.5,65.2 L634.0,65.2 L634.5,66.0 L635.0,66.9 L635.5,67.1 L636.0,67.3 L636.5,67.5 L637.0,68.8 L637.5,70.0 L638.0,71.2 L638.5,72.5 L639.0,73.8 L639.5,74.4 L640.0,75.0 L640.5,75.6 L641.0,76.1 L641.5,76.6 L642.0,77.0 L642.0,134.5 L641.5,133.6 L641.0,132.6 L640.5,131.6 L640.0,131.8 L639.5,132.0 L639.0,132.2 L638.5,132.5 L638.0,132.8 L637.5,133.0 L637.0,135.2 L636.5,137.3 L636.0,138.5 L635.5,139.9 L635.0,141.5 L634.5,143.6 L634.0,145.8 L633.5,147.5 L633.0,148.3 L632.5,149.1 L632.0,149.6 L631.5,150.2 L631.0,150.7 L630.5,151.2 L630.0,151.5 L629.5,151.7 L629.0,151.9 L628.5,152.2 L628.0,151.5 L627.5,150.8 L627.0,150.4 L626.5,150.0 L626.0,149.7 L625.5,149.9 L625.0,150.2 L624.5,150.3 L624.0,150.2 L623.5,150.1 L623.0,149.9 L622.5,149.0 L622.0,148.0 L621.5,147.0 L621.0,144.8 L620.5,143.9 L620.0,144.0 L619.5,144.0 L619.0,145.1 L618.5,144.7 L618.0,144.3 L617.5,144.0 L617.0,143.8 L616.5,143.3 L616.0,143.0 L615.5,142.8 L615.0,142.6 L614.5,142.5 L614.0,142.7 L613.5,142.9 L613.0,143.0 L612.5,143.1 L612.0,143.2 L611.5,143.4 L611.0,143.2 L610.5,143.1 L610.0,142.9 L609.5,142.7 L609.0,142.2 L608.5,141.5 L608.0,141.1 L607.5,140.9 L607.0,140.6 L606.5,140.4 L606.0,139.9 L605.5,139.4 L605.0,138.9 L604.5,138.5 L604.0,138.7 L603.5,138.9 L603.0,139.0 L602.5,139.3 L602.0,139.8 L601.5,140.2 L601.0,140.8 L600.5,141.7 L600.0,142.6 L599.5,141.6 L599.0,141.9 L598.5,142.1 L598.0,142.4 L597.5,142.9 L597.0,144.6 L596.5,146.3 L596.0,147.2 L595.5,147.6 L595.0,148.2 L594.5,148.5 L594.0,147.9 L593.5,147.6 L593.0,147.6 L592.5,147.0 L592.0,146.2 L591.5,146.1 L591.0,146.0 L590.5,145.9 L590.0,145.7 L589.5,145.4 L589.0,144.5 L588.5,144.0 L588.0,143.5 L587.5,143.0 L587.0,142.5 L586.5,142.7 L586.0,142.9 L585.5,142.0 L585.0,140.8 L584.5,139.8 L584.0,138.8 L583.5,139.1 L583.0,138.5 L582.5,137.8 L582.0,137.3 L581.5,136.8 L581.0,136.0 L580.5,135.7 L580.0,135.6 L579.5,135.5 L579.0,135.4 L578.5,135.1 L578.0,136.4 L577.5,137.1 L577.0,137.2 L576.5,138.3 L576.0,139.2 L575.5,140.1 L575.0,140.1 L574.5,139.2 L574.0,138.5 L573.5,137.8 L573.0,138.0 L572.5,138.6 L572.0,139.3 L571.5,140.0 L571.0,140.5 L570.5,141.0 L570.0,141.4 L569.5,141.8 L569.0,142.2 L568.5,142.6 L568.0,142.9 L567.5,143.2 L567.0,144.2 L566.5,146.8 L566.0,148.0 L565.5,149.1 L565.0,148.9 L564.5,148.7 L564.0,148.5 L563.5,146.7 L563.0,145.0 L562.5,143.5 L562.0,141.9 L561.5,140.4 L561.0,138.9 L560.5,138.2 L560.0,137.5 L559.5,136.8 L559.0,136.1 L558.5,135.8 L558.0,135.7 L557.5,136.1 L557.0,136.4 L556.5,136.7 L556.0,137.0 L555.5,137.4 L555.0,138.1 L554.5,138.9 L554.0,139.8 L553.5,140.7 L553.0,141.2 L552.5,140.8 L552.0,140.5 L551.5,140.1 L551.0,139.9 L550.5,140.0 L550.0,140.5 L549.5,141.0 L549.0,141.6 L548.5,142.3 L548.0,143.0 L547.5,143.7 L547.0,144.4 L546.5,145.1 L546.0,145.8 L545.5,146.2 L545.0,146.2 L544.5,146.1 L544.0,146.1 L543.5,145.7 L543.0,145.4 L542.5,145.3 L542.0,145.1 L541.5,144.9 L541.0,144.7 L540.5,144.6 L540.0,144.7 L539.5,144.7 L539.0,144.8 L538.5,144.8 L538.0,145.1 L537.5,145.6 L537.0,146.7 L536.5,148.1 L536.0,149.5 L535.5,148.4 L535.0,148.0 L534.5,147.6 L534.0,147.2 L533.5,146.3 L533.0,145.3 L532.5,144.2 L532.0,142.5 L531.5,140.5 L531.0,138.2 L530.5,136.3 L530.0,135.3 L529.5,134.3 L529.0,133.3 L528.5,132.1 L528.0,132.0 L527.5,131.8 L527.0,131.7 L526.5,131.5 L526.0,132.3 L525.5,133.2 L525.0,134.0 L524.5,134.9 L524.0,135.6 L523.5,136.3 L523.0,137.1 L522.5,137.8 L522.0,138.6 L521.5,138.7 L521.0,138.6 L520.5,138.4 L520.0,138.3 L519.5,138.1 L519.0,138.0 L518.5,138.2 L518.0,138.3 L517.5,138.5 L517.0,138.7 L516.5,138.8 L516.0,139.0 L515.5,139.2 L515.0,139.4 L514.5,139.6 L514.0,139.8 L513.5,139.8 L513.0,139.7 L512.5,139.7 L512.0,140.4 L511.5,141.6 L511.0,142.8 L510.5,143.9 L510.0,145.1 L509.5,146.5 L509.0,147.2 L508.5,147.4 L508.0,147.6 L507.5,147.8 L507.0,148.0 L506.5,147.7 L506.0,147.2 L505.5,146.7 L505.0,146.2 L504.5,145.7 L504.0,145.2 L503.5,144.7 L503.0,144.2 L502.5,143.7 L502.0,143.4 L501.5,143.2 L501.0,143.2 L500.5,143.2 L500.0,143.1 L499.5,143.0 L499.0,142.9 L498.5,142.8 L498.0,142.5 L497.5,141.9 L497.0,141.2 L496.5,140.6 L496.0,139.6 L495.5,138.6 L495.0,137.7 L494.5,136.8 L494.0,136.0 L493.5,135.4 L493.0,134.7 L492.5,134.1 L492.0,133.4 L491.5,133.4 L491.0,134.0 L490.5,134.7 L490.0,135.4 L489.5,136.0 L489.0,136.7 L488.5,137.0 L488.0,137.5 L487.5,138.2 L487.0,139.0 L486.5,139.7 L486.0,140.3 L485.5,140.9 L485.0,141.5 L484.5,141.0 L484.0,140.5 L483.5,140.7 L483.0,140.9 L482.5,141.1 L482.0,142.2 L481.5,143.2 L481.0,143.3 L480.5,143.4 L480.0,143.5 L479.5,143.4 L479.0,143.3 L478.5,147.5 L478.0,151.7 L477.5,152.5 L477.0,152.1 L476.5,150.5 L476.0,149.2 L475.5,148.3 L475.0,147.5 L474.5,146.1 L474.0,144.6 L473.5,143.9 L473.0,143.1 L472.5,142.3 L472.0,141.9 L471.5,141.5 L471.0,141.1 L470.5,140.7 L470.0,140.2 L469.5,140.8 L469.0,141.2 L468.5,141.7 L468.0,142.2 L467.5,142.8 L467.0,142.9 L466.5,143.0 L466.0,143.1 L465.5,143.1 L465.0,143.2 L464.5,143.5 L464.0,142.7 L463.5,142.0 L463.0,141.4 L462.5,140.8 L462.0,140.2 L461.5,139.4 L461.0,138.5 L460.5,137.6 L460.0,136.7 L459.5,135.8 L459.0,134.9 L458.5,134.0 L458.0,133.1 L457.5,132.1 L457.0,131.1 L456.5,130.2 L456.0,129.3 L455.5,129.0 L455.0,129.7 L454.5,130.3 L454.0,131.0 L453.5,131.5 L453.0,131.6 L452.5,131.1 L452.0,130.6 L451.5,130.9 L451.0,131.1 L450.5,131.5 L450.0,132.1 L449.5,132.7 L449.0,133.3 L448.5,133.9 L448.0,134.6 L447.5,135.4 L447.0,136.3 L446.5,137.1 L446.0,137.9 L445.5,138.8 L445.0,139.5 L444.5,140.2 L444.0,140.3 L443.5,140.0 L443.0,139.7 L442.5,139.4 L442.0,138.2 L441.5,136.7 L441.0,135.1 L440.5,133.9 L440.0,133.8 L439.5,133.7 L439.0,133.7 L438.5,133.5 L438.0,133.2 L437.5,132.9 L437.0,131.6 L436.5,130.9 L436.0,130.2 L435.5,129.6 L435.0,128.9 L434.5,128.2 L434.0,127.4 L433.5,126.5 L433.0,125.5 L432.5,124.5 L432.0,123.5 L431.5,123.1 L431.0,122.8 L430.5,122.4 L430.0,122.0 L429.5,121.5 L429.0,121.0 L428.5,120.7 L428.0,120.9 L427.5,121.2 L427.0,121.4 L426.5,122.2 L426.0,123.1 L425.5,124.3 L425.0,124.9 L424.5,125.2 L424.0,126.1 L423.5,127.2 L423.0,128.6 L422.5,130.0 L422.0,132.1 L421.5,134.0 L421.0,135.9 L420.5,137.9 L420.0,138.4 L419.5,138.3 L419.0,138.2 L418.5,137.4 L418.0,136.7 L417.5,135.7 L417.0,134.6 L416.5,133.4 L416.0,132.3 L415.5,131.1 L415.0,130.1 L414.5,129.1 L414.0,128.4 L413.5,127.7 L413.0,127.1 L412.5,126.6 L412.0,126.3 L411.5,124.9 L411.0,123.8 L410.5,123.2 L410.0,122.5 L409.5,121.8 L409.0,121.2 L408.5,120.6 L408.0,120.3 L407.5,119.8 L407.0,119.3 L406.5,118.8 L406.0,118.6 L405.5,118.9 L405.0,119.3 L404.5,119.6 L404.0,120.7 L403.5,121.7 L403.0,122.4 L402.5,123.3 L402.0,124.3 L401.5,125.3 L401.0,126.4 L400.5,127.6 L400.0,128.7 L399.5,129.9 L399.0,130.4 L398.5,130.9 L398.0,130.4 L397.5,128.1 L397.0,125.7 L396.5,125.8 L396.0,126.0 L395.5,126.5 L395.0,127.0 L394.5,127.6 L394.0,126.4 L393.5,125.1 L393.0,123.6 L392.5,123.1 L392.0,123.2 L391.5,122.7 L391.0,121.7 L390.5,119.7 L390.0,117.6 L389.5,115.6 L389.0,113.3 L388.5,111.6 L388.0,110.9 L387.5,110.3 L387.0,109.6 L386.5,109.3 L386.0,108.9 L385.5,108.5 L385.0,108.1 L384.5,107.7 L384.0,108.9 L383.5,110.2 L383.0,111.4 L382.5,113.0 L382.0,114.7 L381.5,116.5 L381.0,118.4 L380.5,120.7 L380.0,122.9 L379.5,125.2 L379.0,125.0 L378.5,124.9 L378.0,127.1 L377.5,122.9 L377.0,124.5 L376.5,121.4 L376.0,124.2 L375.5,137.0 L375.0,127.7 L374.5,124.0 L374.0,120.5Z" fill="rgb(251,184,175)" fill-opacity="0.55" stroke="none"/>
</g>
<rect x="374.5" y="168.8" width="70.8" height="53.8" fill="#fff"/>
<line x1="374.0" y1="17.5" x2="642.0" y2="17.5" stroke="#e4e4e4" stroke-width="0.8"/>
<line x1="373.9" y1="17.5" x2="373.9" y2="223.4" stroke="#555" stroke-width="0.85"/>
<line x1="373.5" y1="223.0" x2="642.0" y2="223.0" stroke="#555" stroke-width="0.9"/>
<line x1="374.00" y1="223.0" x2="374.00" y2="220.5" stroke="#8c8c8c" stroke-width="0.8"/>
<text x="374.00" y="240.5" text-anchor="middle" class="tk">0</text>
<line x1="444.45" y1="223.0" x2="444.45" y2="220.5" stroke="#8c8c8c" stroke-width="0.8"/>
<text x="444.45" y="240.5" text-anchor="middle" class="tk">10</text>
<line x1="514.90" y1="223.0" x2="514.90" y2="220.5" stroke="#8c8c8c" stroke-width="0.8"/>
<text x="514.90" y="240.5" text-anchor="middle" class="tk">20</text>
<line x1="585.35" y1="223.0" x2="585.35" y2="220.5" stroke="#8c8c8c" stroke-width="0.8"/>
<text x="585.35" y="240.5" text-anchor="middle" class="tk">30</text>
<line x1="374.0" y1="17.5" x2="376.5" y2="17.5" stroke="#8c8c8c" stroke-width="0.8"/>
<text x="368.65" y="22.9" text-anchor="end" class="tk">0.2</text>
<line x1="374.0" y1="69.0" x2="376.5" y2="69.0" stroke="#8c8c8c" stroke-width="0.8"/>
<text x="368.65" y="74.4" text-anchor="end" class="tk">0.1</text>
<line x1="374.0" y1="120.5" x2="376.5" y2="120.5" stroke="#8c8c8c" stroke-width="0.8"/>
<text x="368.65" y="125.9" text-anchor="end" class="tk">0</text>
<line x1="374.0" y1="171.7" x2="376.5" y2="171.7" stroke="#8c8c8c" stroke-width="0.8"/>
<text x="368.65" y="177.1" text-anchor="end" class="tk">-0.1</text>
<line x1="374.0" y1="223.0" x2="376.5" y2="223.0" stroke="#8c8c8c" stroke-width="0.8"/>
<text x="368.65" y="228.4" text-anchor="end" class="tk">-0.2</text>
<g clip-path="url(#c374l)" fill="none" stroke-linejoin="round" stroke-linecap="round" stroke-width="1.5">
<path d="M374.3,120.5 L375.2,118.0 L376.4,113.5 L377.5,110.0 L379.0,107.3 L380.7,111.0 L382.0,114.3 L383.7,112.7 L385.3,115.2 L387.8,116.0 L390.3,119.3 L392.8,123.5 L394.5,128.0 L396.2,133.0 L397.8,137.2 L399.5,138.8 L401.2,139.3 L402.8,137.2 L404.5,133.8 L406.2,130.5 L408.3,127.7 L410.0,126.8 L412.0,129.3 L413.7,131.0 L415.7,129.7 L417.8,131.3 L419.5,133.0 L421.2,136.3 L422.8,138.8 L425.3,140.5 L427.8,141.0 L430.3,139.7 L432.3,138.0 L434.5,138.8 L437.0,140.5 L439.5,142.2 L442.0,143.3 L444.5,144.3 L447.0,144.7 L449.0,143.0 L451.2,141.0 L453.3,138.8 L455.0,138.0 L457.0,138.8 L459.0,140.5 L461.2,142.2 L463.3,143.0 L465.3,144.7 L467.3,146.3 L469.5,147.2 L471.7,148.8 L473.7,149.7 L476.2,149.7 L478.0,149.7 L479.0,149.0 L481.0,148.2 L483.2,144.8 L485.3,141.5 L487.3,140.3 L489.3,141.0 L491.5,141.5 L493.7,143.7 L495.7,144.8 L498.2,144.0 L500.3,144.8 L502.3,147.3 L504.3,149.8 L506.5,152.3 L507.7,153.7 L509.8,151.5 L512.0,149.0 L514.0,146.5 L516.0,144.8 L517.7,144.3 L519.8,146.5 L522.0,146.0 L524.0,145.3 L526.0,145.7 L527.7,144.3 L529.3,146.5 L531.0,149.8 L532.7,151.5 L534.8,152.7 L537.3,151.5 L539.8,151.0 L542.3,150.7 L544.8,149.8 L547.3,149.0 L548.7,148.2 L550.3,150.3 L552.3,152.0 L554.3,150.3 L556.5,149.3 L559.0,148.7 L561.5,149.0 L564.0,149.2 L565.9,149.9 L567.8,151.8 L569.6,153.2 L570.9,153.6 L572.5,151.8 L574.0,149.2 L575.9,146.5 L577.8,144.2 L579.2,143.0 L580.9,144.9 L582.5,147.4 L583.8,149.0 L585.2,148.0 L586.8,149.0 L588.4,148.6 L590.0,147.4 L591.5,145.5 L593.0,144.0 L594.6,144.5 L596.2,145.2 L597.8,144.9 L599.2,145.8 L600.9,148.0 L602.5,149.5 L604.0,150.5 L605.5,151.5 L607.1,153.6 L608.8,154.2 L610.5,153.6 L612.1,151.8 L613.4,149.2 L614.6,146.8 L615.9,144.2 L617.5,142.8 L619.6,141.5 L621.2,143.0 L622.8,143.6 L624.2,143.2 L625.9,143.0 L627.5,144.9 L629.0,146.1 L630.9,146.1 L632.8,146.5 L634.6,146.5 L636.5,145.5 L638.4,144.9 L640.2,144.5 L641.8,144.5" stroke="#504ad9"/>
<path d="M374.0,120.5 L374.5,118.0 L375.3,92.0 L376.1,84.0 L377.8,81.8 L379.5,80.2 L381.2,81.8 L382.8,83.5 L384.5,86.8 L386.2,90.2 L387.8,93.5 L389.5,96.0 L391.2,99.3 L392.8,97.7 L395.3,96.8 L397.0,97.7 L398.7,100.2 L401.2,103.5 L403.7,105.2 L406.2,106.0 L408.7,107.7 L411.2,109.3 L413.7,111.8 L415.7,113.5 L417.8,111.0 L419.5,109.7 L422.0,110.2 L424.5,111.8 L427.0,111.8 L429.5,114.3 L431.2,115.2 L433.7,112.7 L436.2,110.7 L438.7,112.7 L441.2,115.2 L443.7,116.8 L446.2,117.7 L448.7,119.3 L450.7,121.3 L452.8,120.2 L455.3,117.7 L457.8,116.8 L460.3,117.7 L462.8,116.8 L465.3,118.5 L467.8,120.2 L469.5,123.5 L471.7,126.8 L473.3,127.7 L475.3,126.3 L477.8,126.8 L479.0,128.2 L481.0,124.8 L483.2,120.7 L484.8,118.2 L486.0,117.0 L488.2,119.0 L490.3,121.5 L492.3,124.0 L494.8,126.0 L497.3,125.7 L499.8,126.5 L502.3,127.3 L504.8,127.7 L507.3,126.5 L509.8,124.3 L511.5,123.7 L514.0,125.3 L516.5,127.3 L519.0,129.8 L521.5,131.5 L524.0,130.7 L526.5,128.7 L529.0,127.7 L531.5,128.2 L534.0,127.3 L536.5,126.0 L539.0,125.7 L541.5,127.0 L543.7,129.8 L545.7,133.2 L547.7,136.5 L549.8,139.3 L551.5,139.8 L554.0,138.7 L556.5,137.0 L558.7,134.0 L560.7,129.0 L562.7,124.3 L564.0,122.2 L565.9,122.9 L567.8,126.0 L569.2,124.8 L570.9,127.2 L572.8,129.8 L574.6,132.2 L576.5,134.1 L578.4,136.0 L580.2,136.6 L581.8,138.5 L583.0,139.1 L584.6,138.5 L586.5,138.2 L588.4,137.2 L589.6,134.8 L590.9,131.6 L592.1,128.5 L593.4,126.0 L594.6,124.1 L596.2,123.8 L597.8,122.2 L599.6,121.2 L601.2,122.0 L602.8,124.1 L604.0,126.6 L605.2,128.5 L606.5,131.6 L607.8,133.5 L609.2,133.2 L610.9,132.2 L612.8,131.6 L614.6,130.8 L616.5,131.0 L618.4,130.0 L620.0,128.5 L621.5,127.9 L623.0,129.1 L624.6,130.4 L626.2,129.1 L627.8,127.2 L629.0,128.5 L630.2,131.0 L632.1,132.9 L633.8,134.1 L635.2,132.9 L636.8,133.5 L638.4,135.4 L640.0,136.6 L641.8,137.9" stroke="#46d046"/>
<path d="M374.0,120.5 L374.5,118.0 L375.3,90.0 L376.2,66.0 L377.0,74.3 L378.0,80.2 L379.5,77.7 L381.2,76.8 L382.8,76.0 L384.5,75.2 L387.0,76.8 L389.5,79.3 L391.2,80.7 L392.8,79.3 L394.5,80.7 L397.0,78.5 L398.7,81.0 L401.2,84.3 L403.7,86.8 L406.2,88.5 L408.7,91.0 L411.2,94.3 L412.0,96.0 L414.5,98.5 L417.0,101.8 L419.0,104.3 L420.3,105.2 L422.0,102.7 L423.7,99.3 L425.3,96.8 L427.0,92.7 L428.7,89.3 L430.0,89.0 L433.8,92.8 L437.5,95.9 L440.6,95.2 L444.4,99.0 L448.1,96.5 L450.6,95.9 L453.1,96.5 L455.6,95.2 L458.8,97.8 L461.9,102.1 L464.8,105.2 L467.5,102.8 L470.0,99.6 L472.5,98.8 L475.0,102.8 L477.2,106.8 L480.0,105.2 L482.5,103.4 L485.0,103.8 L488.1,100.9 L491.9,99.0 L495.0,100.0 L498.1,101.5 L501.2,104.0 L504.4,107.1 L506.9,109.6 L509.0,110.2 L509.3,110.3 L511.5,108.2 L514.0,105.7 L516.5,102.3 L519.0,100.7 L521.5,100.3 L524.0,99.3 L526.5,98.7 L528.7,99.0 L530.7,102.3 L532.3,107.3 L534.0,110.7 L536.0,114.0 L538.2,111.5 L540.7,109.8 L543.2,109.0 L545.7,108.7 L548.2,106.5 L550.7,104.3 L553.2,104.0 L555.7,104.8 L558.2,106.5 L560.7,109.8 L563.2,113.2 L564.0,113.6 L566.5,113.6 L569.0,109.9 L571.5,106.8 L573.4,104.2 L575.2,104.0 L577.1,100.5 L578.4,99.9 L579.6,101.8 L581.5,104.9 L583.4,107.4 L585.2,107.8 L587.1,108.6 L589.0,111.1 L590.9,114.2 L592.8,116.8 L594.6,117.4 L596.2,116.1 L597.8,112.4 L599.6,108.6 L601.2,108.0 L602.8,106.8 L604.6,106.1 L606.5,106.1 L608.4,104.2 L610.2,103.2 L611.8,105.5 L613.4,108.0 L615.2,110.5 L617.1,113.0 L619.0,114.9 L620.9,112.4 L622.8,113.0 L624.6,113.6 L626.5,114.2 L628.4,114.2 L630.2,111.8 L632.1,108.6 L634.0,105.5 L635.9,103.0 L637.5,101.5 L639.0,103.0 L640.5,103.6 L641.8,105.5" stroke="#cd4e56"/>
</g>
<text x="507.5" y="12.2" text-anchor="middle" class="ti">Asynchronous Condition</text>
<text x="507.7" y="258.5" text-anchor="middle" class="al">time (s)</text>
<text transform="translate(339.7,120.5) rotate(-90)" text-anchor="middle" class="al">Force [N]</text>
<line x1="383.40" y1="177.35" x2="405.20" y2="177.35" stroke="#4444e2" stroke-width="1.5"/>
<text  x="407.20" y="182.1" class="lg">Left</text>
<line x1="383.40" y1="192.75" x2="405.20" y2="192.75" stroke="#40d248" stroke-width="1.5"/>
<text  x="407.20" y="197.5" class="lg">Center</text>
<line x1="383.40" y1="208.15" x2="405.20" y2="208.15" stroke="#de484a" stroke-width="1.5"/>
<text  x="407.20" y="212.9" class="lg">Right</text>
</svg>
</body></html>
